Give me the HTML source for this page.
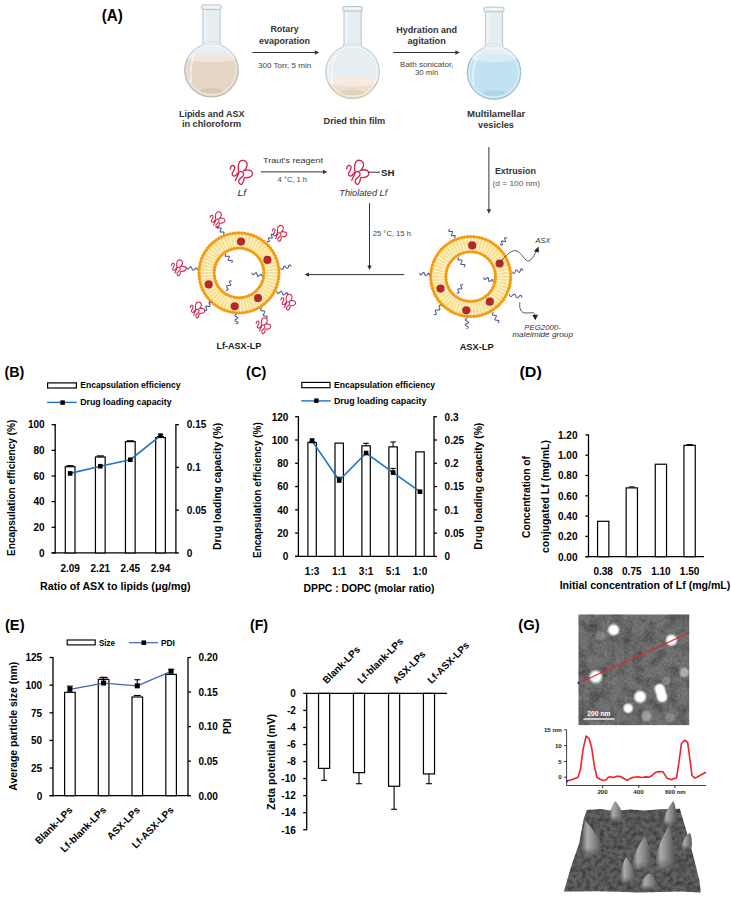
<!DOCTYPE html>
<html><head><meta charset="utf-8"><title>Figure</title>
<style>html,body{margin:0;padding:0;background:#fff;} svg{display:block;} text{font-family:"Liberation Sans", sans-serif;}</style>
</head><body>
<svg width="731" height="897" viewBox="0 0 731 897" style='font-family:"Liberation Sans", sans-serif'>
<rect width="731" height="897" fill="#fff"/>
<defs>
<filter id="afmnoise" x="0" y="0" width="100%" height="100%"><feTurbulence type="fractalNoise" baseFrequency="0.09" numOctaves="3" seed="3"/><feColorMatrix type="matrix" values="0 0 0 0 0  0 0 0 0 0  0 0 0 0 0  1.3 0 0 0 -0.5"/><feGaussianBlur stdDeviation="0.6"/><feComposite operator="in" in2="SourceGraphic"/></filter>
<filter id="afmfine" x="0" y="0" width="100%" height="100%"><feTurbulence type="fractalNoise" baseFrequency="0.4" numOctaves="2" seed="11"/><feColorMatrix type="matrix" values="0 0 0 0 1  0 0 0 0 1  0 0 0 0 1  1.6 0 0 0 -0.6"/><feGaussianBlur stdDeviation="0.4"/><feComposite operator="in" in2="SourceGraphic"/></filter>
<filter id="surfnoise" x="0" y="0" width="100%" height="100%"><feTurbulence type="fractalNoise" baseFrequency="0.22" numOctaves="3" seed="5"/><feColorMatrix type="matrix" values="0 0 0 0 0  0 0 0 0 0  0 0 0 0 0  1.8 0 0 0 -0.62"/><feComposite operator="in" in2="SourceGraphic"/></filter>
<radialGradient id="blob"><stop offset="0" stop-color="#fff"/><stop offset="0.55" stop-color="#fff"/><stop offset="0.8" stop-color="#fff" stop-opacity="0.45"/><stop offset="1" stop-color="#fff" stop-opacity="0"/></radialGradient>
<linearGradient id="spike" x1="0" x2="1" y1="0" y2="0"><stop offset="0" stop-color="#5e5e5e"/><stop offset="0.28" stop-color="#ababab"/><stop offset="0.6" stop-color="#888888"/><stop offset="1" stop-color="#525252"/></linearGradient>
<linearGradient id="vfade" x1="0" x2="0" y1="0" y2="1"><stop offset="0" stop-color="#fff"/><stop offset="0.75" stop-color="#fff"/><stop offset="1" stop-color="#222"/></linearGradient>
<mask id="spkmask" maskContentUnits="objectBoundingBox"><rect width="1" height="1" fill="url(#vfade)"/></mask>
</defs>
<text x="101.8" y="21.3" font-size="15.6" font-weight="bold" text-anchor="start" fill="#000" textLength="21.0" lengthAdjust="spacingAndGlyphs">(A)</text>
<path d="M202.90,7.90 L202.90,41.40 Q202.90,46.16 198.50,46.76 A26.8 26.8 0 1 0 224.50,46.76 Q220.10,46.16 220.10,41.40 L220.10,7.90 Z" fill="#e7eef2" stroke="#adbcc6" stroke-width="0.85"/>
<rect x="204.10" y="8.90" width="2.2" height="32.50" fill="#f3f7f9" opacity="0.8"/>
<ellipse cx="211.5" cy="42.90" rx="8.00" ry="1.5" fill="none" stroke="#d3dde3" stroke-width="0.6"/>
<clipPath id="fc1"><circle cx="211.5" cy="70.2" r="26.30"/></clipPath>
<g clip-path="url(#fc1)">
<rect x="184.70" y="58.40" width="53.60" height="39.60" fill="#e5d6c6"/>
<ellipse cx="211.5" cy="58.40" rx="24.06" ry="3.80" fill="#f1e6d9"/>
<ellipse cx="211.5" cy="90.80" rx="11.52" ry="2.8" fill="#d8c6b2" opacity="0.85"/>
<circle cx="211.5" cy="70.2" r="24.80" fill="none" stroke="#ffffff" stroke-opacity="0.35" stroke-width="1.6"/>
<rect x="184.70" y="58.40" width="53.60" height="39.60" fill="none"/>
</g>
<clipPath id="fl1"><rect x="182.70" y="58.40" width="57.60" height="41.60"/></clipPath>
<circle cx="211.5" cy="70.2" r="26.60" fill="none" stroke="#c9b9a8" stroke-width="1.1" clip-path="url(#fl1)"/>
<path d="M191.20,82.20 Q188.90,68.20 194.20,55.20" fill="none" stroke="#ffffff" stroke-opacity="0.55" stroke-width="2.0" stroke-linecap="round"/>
<rect x="201.30" y="4.90" width="20.4" height="4.6" rx="2.3" fill="#e2ebf0" stroke="#adbcc6" stroke-width="0.8"/>
<ellipse cx="211.5" cy="6.80" rx="8.2" ry="1.0" fill="#f5f8fa"/>
<path d="M344.00,9.50 L344.00,43.00 Q344.00,47.76 339.60,48.36 A26.8 26.8 0 1 0 365.60,48.36 Q361.20,47.76 361.20,43.00 L361.20,9.50 Z" fill="#e7eef2" stroke="#adbcc6" stroke-width="0.85"/>
<rect x="345.20" y="10.50" width="2.2" height="32.50" fill="#f3f7f9" opacity="0.8"/>
<ellipse cx="352.6" cy="44.50" rx="8.00" ry="1.5" fill="none" stroke="#d3dde3" stroke-width="0.6"/>
<clipPath id="fc2"><circle cx="352.6" cy="71.8" r="26.30"/></clipPath>
<g clip-path="url(#fc2)">
<rect x="325.80" y="81.75" width="53.60" height="17.85" fill="#ecdecb"/>
<ellipse cx="352.6" cy="81.75" rx="24.88" ry="4.75" fill="#f6ebde"/>
<ellipse cx="352.6" cy="92.40" rx="11.52" ry="2.8" fill="#e0cfba" opacity="0.85"/>
<circle cx="352.6" cy="71.8" r="24.80" fill="none" stroke="#ffffff" stroke-opacity="0.35" stroke-width="1.6"/>
<rect x="325.80" y="81.75" width="53.60" height="17.85" fill="none"/>
</g>
<clipPath id="fl2"><rect x="323.80" y="81.75" width="57.60" height="19.85"/></clipPath>
<circle cx="352.6" cy="71.8" r="26.60" fill="none" stroke="#d3c4b2" stroke-width="1.1" clip-path="url(#fl2)"/>
<path d="M332.30,83.80 Q330.00,69.80 335.30,56.80" fill="none" stroke="#ffffff" stroke-opacity="0.55" stroke-width="2.0" stroke-linecap="round"/>
<rect x="342.40" y="6.50" width="20.4" height="4.6" rx="2.3" fill="#e2ebf0" stroke="#adbcc6" stroke-width="0.8"/>
<ellipse cx="352.6" cy="8.40" rx="8.2" ry="1.0" fill="#f5f8fa"/>
<path d="M485.40,10.20 L485.40,43.70 Q485.40,48.46 481.00,49.06 A26.8 26.8 0 1 0 507.00,49.06 Q502.60,48.46 502.60,43.70 L502.60,10.20 Z" fill="#e7eef2" stroke="#adbcc6" stroke-width="0.85"/>
<rect x="486.60" y="11.20" width="2.2" height="32.50" fill="#f3f7f9" opacity="0.8"/>
<ellipse cx="494.0" cy="45.20" rx="8.00" ry="1.5" fill="none" stroke="#d3dde3" stroke-width="0.6"/>
<clipPath id="fc3"><circle cx="494.0" cy="72.5" r="26.30"/></clipPath>
<g clip-path="url(#fc3)">
<rect x="467.20" y="58.10" width="53.60" height="42.20" fill="#c0e2f1"/>
<ellipse cx="494.0" cy="58.10" rx="22.60" ry="4.20" fill="#d6edf6"/>
<ellipse cx="494.0" cy="93.10" rx="11.52" ry="2.8" fill="#aad4e8" opacity="0.85"/>
<circle cx="494.0" cy="72.5" r="24.80" fill="none" stroke="#ffffff" stroke-opacity="0.35" stroke-width="1.6"/>
<rect x="467.20" y="58.10" width="53.60" height="42.20" fill="none"/>
</g>
<clipPath id="fl3"><rect x="465.20" y="58.10" width="57.60" height="44.20"/></clipPath>
<circle cx="494.0" cy="72.5" r="26.60" fill="none" stroke="#9fc3d3" stroke-width="1.1" clip-path="url(#fl3)"/>
<path d="M473.70,84.50 Q471.40,70.50 476.70,57.50" fill="none" stroke="#ffffff" stroke-opacity="0.55" stroke-width="2.0" stroke-linecap="round"/>
<rect x="483.80" y="7.20" width="20.4" height="4.6" rx="2.3" fill="#e2ebf0" stroke="#adbcc6" stroke-width="0.8"/>
<ellipse cx="494.0" cy="9.10" rx="8.2" ry="1.0" fill="#f5f8fa"/>
<text x="178.9" y="116.6" font-size="8.8" font-weight="bold" text-anchor="start" fill="#333" textLength="65.6" lengthAdjust="spacingAndGlyphs">Lipids and ASX</text>
<text x="181.9" y="127.3" font-size="8.8" font-weight="bold" text-anchor="start" fill="#333" textLength="59.3" lengthAdjust="spacingAndGlyphs">in chloroform</text>
<text x="270.4" y="32.3" font-size="8.8" font-weight="bold" text-anchor="start" fill="#333" textLength="28.2" lengthAdjust="spacingAndGlyphs">Rotary</text>
<text x="259.0" y="43.5" font-size="8.8" font-weight="bold" text-anchor="start" fill="#333" textLength="51.1" lengthAdjust="spacingAndGlyphs">evaporation</text>
<line x1="252.40" y1="52.50" x2="316.80" y2="52.50" stroke="#333" stroke-width="1.0"/>
<path d="M319.2,52.5 L314.8,50.3 L314.8,54.7 Z" fill="#333"/>
<text x="257.9" y="68.2" font-size="8.0" font-weight="normal" text-anchor="start" fill="#444" textLength="53.3" lengthAdjust="spacingAndGlyphs">300 Torr, 5 min</text>
<text x="396.3" y="32.6" font-size="8.8" font-weight="bold" text-anchor="start" fill="#333" textLength="60.7" lengthAdjust="spacingAndGlyphs">Hydration and</text>
<text x="407.5" y="43.5" font-size="8.8" font-weight="bold" text-anchor="start" fill="#333" textLength="38.3" lengthAdjust="spacingAndGlyphs">agitation</text>
<line x1="393.10" y1="52.50" x2="457.40" y2="52.50" stroke="#333" stroke-width="1.0"/>
<path d="M459.8,52.5 L455.4,50.3 L455.4,54.7 Z" fill="#333"/>
<text x="400.0" y="66.5" font-size="8.0" font-weight="normal" text-anchor="start" fill="#444" textLength="53.5" lengthAdjust="spacingAndGlyphs">Bath sonicator,</text>
<text x="415.0" y="75.3" font-size="8.0" font-weight="normal" text-anchor="start" fill="#444" textLength="23.2" lengthAdjust="spacingAndGlyphs">30 min</text>
<text x="323.5" y="123.5" font-size="8.8" font-weight="bold" text-anchor="start" fill="#333" textLength="61.7" lengthAdjust="spacingAndGlyphs">Dried thin film</text>
<text x="467.0" y="116.6" font-size="8.8" font-weight="bold" text-anchor="start" fill="#333" textLength="58.2" lengthAdjust="spacingAndGlyphs">Multilamellar</text>
<text x="478.0" y="127.7" font-size="8.8" font-weight="bold" text-anchor="start" fill="#333" textLength="36.0" lengthAdjust="spacingAndGlyphs">vesicles</text>
<path d="M235.39,180.38 C235.64,179.80 236.37,178.05 236.92,176.88 C237.47,175.71 238.45,174.62 238.67,173.38 C238.89,172.14 238.27,170.89 238.24,169.44 C238.20,167.98 238.09,166.01 238.45,164.62 C238.82,163.23 239.59,161.81 240.42,161.12 C241.26,160.42 242.47,160.24 243.49,160.46 C244.51,160.68 245.97,161.52 246.55,162.43 C247.14,163.34 247.21,164.77 246.99,165.93 C246.77,167.10 245.82,168.63 245.24,169.44 C244.66,170.24 243.20,170.68 243.49,170.75 C243.78,170.82 245.75,169.87 246.99,169.87 C248.23,169.87 250.02,170.16 250.93,170.75 C251.84,171.33 252.46,172.43 252.46,173.38 C252.46,174.32 251.84,175.71 250.93,176.44 C250.02,177.17 248.09,177.54 246.99,177.75 C245.90,177.97 244.95,177.17 244.36,177.75 C243.78,178.34 243.93,180.16 243.49,181.26 C243.05,182.35 242.47,184.03 241.74,184.32 C241.01,184.61 239.55,183.74 239.11,183.01 C238.67,182.28 238.75,180.82 239.11,179.94 C239.48,179.07 240.57,178.56 241.30,177.75 C242.03,176.95 243.20,176.00 243.49,175.13 C243.78,174.25 243.56,173.08 243.05,172.50 C242.54,171.92 241.37,171.48 240.42,171.62 C239.48,171.77 238.16,172.72 237.36,173.38 C236.56,174.03 236.26,175.13 235.61,175.56 C234.95,176.00 234.00,176.29 233.42,176.00 C232.84,175.71 232.03,174.76 232.11,173.81 C232.18,172.86 233.42,171.41 233.86,170.31 C234.29,169.22 234.88,168.05 234.73,167.25 C234.59,166.44 233.60,165.60 232.98,165.49 C232.36,165.39 231.45,166.01 231.01,166.59 C230.57,167.17 230.46,168.60 230.35,169.00" fill="none" stroke="#d2204a" stroke-width="1.3" stroke-linecap="round" stroke-linejoin="round"/>
<text x="237.5" y="196.2" font-size="8.5" font-weight="normal" text-anchor="start" fill="#333" font-style="italic" textLength="8.8" lengthAdjust="spacingAndGlyphs">Lf</text>
<text x="263.0" y="163.2" font-size="7.8" font-weight="normal" text-anchor="start" fill="#333" textLength="60.0" lengthAdjust="spacingAndGlyphs">Traut's reagent</text>
<line x1="260.70" y1="171.90" x2="325.00" y2="171.90" stroke="#333" stroke-width="1.0"/>
<path d="M327.4,171.9 L323.0,169.7 L323.0,174.1 Z" fill="#333"/>
<text x="277.6" y="181.8" font-size="7.0" font-weight="normal" text-anchor="start" fill="#444" textLength="29.5" lengthAdjust="spacingAndGlyphs">4 °C, 1 h</text>
<path d="M351.79,180.28 C352.04,179.70 352.77,177.95 353.32,176.78 C353.87,175.61 354.85,174.52 355.07,173.28 C355.29,172.04 354.67,170.79 354.64,169.34 C354.60,167.88 354.49,165.91 354.85,164.52 C355.22,163.13 355.99,161.71 356.82,161.02 C357.66,160.32 358.87,160.14 359.89,160.36 C360.91,160.58 362.37,161.42 362.95,162.33 C363.54,163.24 363.61,164.67 363.39,165.83 C363.17,167.00 362.22,168.53 361.64,169.34 C361.06,170.14 359.60,170.58 359.89,170.65 C360.18,170.72 362.15,169.77 363.39,169.77 C364.63,169.77 366.42,170.06 367.33,170.65 C368.24,171.23 368.86,172.33 368.86,173.28 C368.86,174.22 368.24,175.61 367.33,176.34 C366.42,177.07 364.49,177.44 363.39,177.65 C362.30,177.87 361.35,177.07 360.76,177.65 C360.18,178.24 360.33,180.06 359.89,181.16 C359.45,182.25 358.87,183.93 358.14,184.22 C357.41,184.51 355.95,183.64 355.51,182.91 C355.07,182.18 355.15,180.72 355.51,179.84 C355.88,178.97 356.97,178.46 357.70,177.65 C358.43,176.85 359.60,175.90 359.89,175.03 C360.18,174.15 359.96,172.98 359.45,172.40 C358.94,171.82 357.77,171.38 356.82,171.52 C355.88,171.67 354.56,172.62 353.76,173.28 C352.96,173.93 352.66,175.03 352.01,175.46 C351.35,175.90 350.40,176.19 349.82,175.90 C349.24,175.61 348.43,174.66 348.51,173.71 C348.58,172.76 349.82,171.31 350.26,170.21 C350.69,169.12 351.28,167.95 351.13,167.15 C350.99,166.34 350.00,165.50 349.38,165.39 C348.76,165.29 347.85,165.91 347.41,166.49 C346.97,167.07 346.86,168.50 346.75,168.90" fill="none" stroke="#d2204a" stroke-width="1.3" stroke-linecap="round" stroke-linejoin="round"/>
<line x1="368.50" y1="172.20" x2="380.00" y2="172.20" stroke="#333" stroke-width="1.0"/>
<text x="381.0" y="176.1" font-size="8.8" font-weight="bold" text-anchor="start" fill="#222" textLength="13.4" lengthAdjust="spacingAndGlyphs">SH</text>
<text x="339.3" y="195.8" font-size="8.5" font-weight="normal" text-anchor="start" fill="#333" font-style="italic" textLength="47.9" lengthAdjust="spacingAndGlyphs">Thiolated Lf</text>
<line x1="369.50" y1="203.20" x2="369.50" y2="267.60" stroke="#333" stroke-width="1.0"/>
<path d="M369.5,270.0 L367.3,265.6 L371.7,265.6 Z" fill="#333"/>
<text x="372.8" y="235.5" font-size="8.0" font-weight="normal" text-anchor="start" fill="#444" textLength="38.1" lengthAdjust="spacingAndGlyphs">25 °C, 15 h</text>
<line x1="404.20" y1="274.60" x2="307.00" y2="274.60" stroke="#333" stroke-width="1.0"/>
<path d="M304.6,274.6 L309.0,272.4 L309.0,276.8 Z" fill="#333"/>
<line x1="488.90" y1="147.00" x2="488.90" y2="211.30" stroke="#333" stroke-width="1.0"/>
<path d="M488.9,213.7 L486.7,209.3 L491.1,209.3 Z" fill="#333"/>
<text x="494.9" y="173.6" font-size="8.8" font-weight="bold" text-anchor="start" fill="#333" textLength="41.0" lengthAdjust="spacingAndGlyphs">Extrusion</text>
<text x="492.6" y="185.9" font-size="8.0" font-weight="normal" text-anchor="start" fill="#555" textLength="47.4" lengthAdjust="spacingAndGlyphs">(d  = 100 nm)</text>
<circle cx="470.7" cy="276.6" r="32.40" fill="none" stroke="#f9e08f" stroke-width="15.20"/>
<line x1="496.47" y1="277.87" x2="509.65" y2="278.51" stroke="#fffbf3" stroke-width="0.9"/>
<line x1="496.22" y1="280.39" x2="509.28" y2="282.32" stroke="#fffbf3" stroke-width="0.9"/>
<line x1="495.73" y1="282.87" x2="508.53" y2="286.08" stroke="#fffbf3" stroke-width="0.9"/>
<line x1="494.99" y1="285.29" x2="507.42" y2="289.74" stroke="#fffbf3" stroke-width="0.9"/>
<line x1="494.02" y1="287.63" x2="505.96" y2="293.27" stroke="#fffbf3" stroke-width="0.9"/>
<line x1="492.83" y1="289.86" x2="504.15" y2="296.65" stroke="#fffbf3" stroke-width="0.9"/>
<line x1="491.42" y1="291.97" x2="502.03" y2="299.83" stroke="#fffbf3" stroke-width="0.9"/>
<line x1="489.82" y1="293.93" x2="499.60" y2="302.79" stroke="#fffbf3" stroke-width="0.9"/>
<line x1="488.03" y1="295.72" x2="496.89" y2="305.50" stroke="#fffbf3" stroke-width="0.9"/>
<line x1="486.07" y1="297.32" x2="493.93" y2="307.93" stroke="#fffbf3" stroke-width="0.9"/>
<line x1="483.96" y1="298.73" x2="490.75" y2="310.05" stroke="#fffbf3" stroke-width="0.9"/>
<line x1="481.73" y1="299.92" x2="487.37" y2="311.86" stroke="#fffbf3" stroke-width="0.9"/>
<line x1="479.39" y1="300.89" x2="483.84" y2="313.32" stroke="#fffbf3" stroke-width="0.9"/>
<line x1="476.97" y1="301.63" x2="480.18" y2="314.43" stroke="#fffbf3" stroke-width="0.9"/>
<line x1="474.49" y1="302.12" x2="476.42" y2="315.18" stroke="#fffbf3" stroke-width="0.9"/>
<line x1="471.97" y1="302.37" x2="472.61" y2="315.55" stroke="#fffbf3" stroke-width="0.9"/>
<line x1="469.43" y1="302.37" x2="468.79" y2="315.55" stroke="#fffbf3" stroke-width="0.9"/>
<line x1="466.91" y1="302.12" x2="464.98" y2="315.18" stroke="#fffbf3" stroke-width="0.9"/>
<line x1="464.43" y1="301.63" x2="461.22" y2="314.43" stroke="#fffbf3" stroke-width="0.9"/>
<line x1="462.01" y1="300.89" x2="457.56" y2="313.32" stroke="#fffbf3" stroke-width="0.9"/>
<line x1="459.67" y1="299.92" x2="454.03" y2="311.86" stroke="#fffbf3" stroke-width="0.9"/>
<line x1="457.44" y1="298.73" x2="450.65" y2="310.05" stroke="#fffbf3" stroke-width="0.9"/>
<line x1="455.33" y1="297.32" x2="447.47" y2="307.93" stroke="#fffbf3" stroke-width="0.9"/>
<line x1="453.37" y1="295.72" x2="444.51" y2="305.50" stroke="#fffbf3" stroke-width="0.9"/>
<line x1="451.58" y1="293.93" x2="441.80" y2="302.79" stroke="#fffbf3" stroke-width="0.9"/>
<line x1="449.98" y1="291.97" x2="439.37" y2="299.83" stroke="#fffbf3" stroke-width="0.9"/>
<line x1="448.57" y1="289.86" x2="437.25" y2="296.65" stroke="#fffbf3" stroke-width="0.9"/>
<line x1="447.38" y1="287.63" x2="435.44" y2="293.27" stroke="#fffbf3" stroke-width="0.9"/>
<line x1="446.41" y1="285.29" x2="433.98" y2="289.74" stroke="#fffbf3" stroke-width="0.9"/>
<line x1="445.67" y1="282.87" x2="432.87" y2="286.08" stroke="#fffbf3" stroke-width="0.9"/>
<line x1="445.18" y1="280.39" x2="432.12" y2="282.32" stroke="#fffbf3" stroke-width="0.9"/>
<line x1="444.93" y1="277.87" x2="431.75" y2="278.51" stroke="#fffbf3" stroke-width="0.9"/>
<line x1="444.93" y1="275.33" x2="431.75" y2="274.69" stroke="#fffbf3" stroke-width="0.9"/>
<line x1="445.18" y1="272.81" x2="432.12" y2="270.88" stroke="#fffbf3" stroke-width="0.9"/>
<line x1="445.67" y1="270.33" x2="432.87" y2="267.12" stroke="#fffbf3" stroke-width="0.9"/>
<line x1="446.41" y1="267.91" x2="433.98" y2="263.46" stroke="#fffbf3" stroke-width="0.9"/>
<line x1="447.38" y1="265.57" x2="435.44" y2="259.93" stroke="#fffbf3" stroke-width="0.9"/>
<line x1="448.57" y1="263.34" x2="437.25" y2="256.55" stroke="#fffbf3" stroke-width="0.9"/>
<line x1="449.98" y1="261.23" x2="439.37" y2="253.37" stroke="#fffbf3" stroke-width="0.9"/>
<line x1="451.58" y1="259.27" x2="441.80" y2="250.41" stroke="#fffbf3" stroke-width="0.9"/>
<line x1="453.37" y1="257.48" x2="444.51" y2="247.70" stroke="#fffbf3" stroke-width="0.9"/>
<line x1="455.33" y1="255.88" x2="447.47" y2="245.27" stroke="#fffbf3" stroke-width="0.9"/>
<line x1="457.44" y1="254.47" x2="450.65" y2="243.15" stroke="#fffbf3" stroke-width="0.9"/>
<line x1="459.67" y1="253.28" x2="454.03" y2="241.34" stroke="#fffbf3" stroke-width="0.9"/>
<line x1="462.01" y1="252.31" x2="457.56" y2="239.88" stroke="#fffbf3" stroke-width="0.9"/>
<line x1="464.43" y1="251.57" x2="461.22" y2="238.77" stroke="#fffbf3" stroke-width="0.9"/>
<line x1="466.91" y1="251.08" x2="464.98" y2="238.02" stroke="#fffbf3" stroke-width="0.9"/>
<line x1="469.43" y1="250.83" x2="468.79" y2="237.65" stroke="#fffbf3" stroke-width="0.9"/>
<line x1="471.97" y1="250.83" x2="472.61" y2="237.65" stroke="#fffbf3" stroke-width="0.9"/>
<line x1="474.49" y1="251.08" x2="476.42" y2="238.02" stroke="#fffbf3" stroke-width="0.9"/>
<line x1="476.97" y1="251.57" x2="480.18" y2="238.77" stroke="#fffbf3" stroke-width="0.9"/>
<line x1="479.39" y1="252.31" x2="483.84" y2="239.88" stroke="#fffbf3" stroke-width="0.9"/>
<line x1="481.73" y1="253.28" x2="487.37" y2="241.34" stroke="#fffbf3" stroke-width="0.9"/>
<line x1="483.96" y1="254.47" x2="490.75" y2="243.15" stroke="#fffbf3" stroke-width="0.9"/>
<line x1="486.07" y1="255.88" x2="493.93" y2="245.27" stroke="#fffbf3" stroke-width="0.9"/>
<line x1="488.03" y1="257.48" x2="496.89" y2="247.70" stroke="#fffbf3" stroke-width="0.9"/>
<line x1="489.82" y1="259.27" x2="499.60" y2="250.41" stroke="#fffbf3" stroke-width="0.9"/>
<line x1="491.42" y1="261.23" x2="502.03" y2="253.37" stroke="#fffbf3" stroke-width="0.9"/>
<line x1="492.83" y1="263.34" x2="504.15" y2="256.55" stroke="#fffbf3" stroke-width="0.9"/>
<line x1="494.02" y1="265.57" x2="505.96" y2="259.93" stroke="#fffbf3" stroke-width="0.9"/>
<line x1="494.99" y1="267.91" x2="507.42" y2="263.46" stroke="#fffbf3" stroke-width="0.9"/>
<line x1="495.73" y1="270.33" x2="508.53" y2="267.12" stroke="#fffbf3" stroke-width="0.9"/>
<line x1="496.22" y1="272.81" x2="509.28" y2="270.88" stroke="#fffbf3" stroke-width="0.9"/>
<line x1="496.47" y1="275.33" x2="509.65" y2="274.69" stroke="#fffbf3" stroke-width="0.9"/>
<circle cx="470.7" cy="276.6" r="40.0" fill="none" stroke="#f4a21a" stroke-width="1.5"/>
<circle cx="510.70" cy="276.60" r="1.65" fill="#f39a10"/>
<circle cx="510.59" cy="279.59" r="1.65" fill="#f39a10"/>
<circle cx="510.25" cy="282.56" r="1.65" fill="#f39a10"/>
<circle cx="509.70" cy="285.50" r="1.65" fill="#f39a10"/>
<circle cx="508.92" cy="288.39" r="1.65" fill="#f39a10"/>
<circle cx="507.93" cy="291.21" r="1.65" fill="#f39a10"/>
<circle cx="506.74" cy="293.96" r="1.65" fill="#f39a10"/>
<circle cx="505.34" cy="296.60" r="1.65" fill="#f39a10"/>
<circle cx="503.75" cy="299.13" r="1.65" fill="#f39a10"/>
<circle cx="501.97" cy="301.54" r="1.65" fill="#f39a10"/>
<circle cx="500.02" cy="303.81" r="1.65" fill="#f39a10"/>
<circle cx="497.91" cy="305.92" r="1.65" fill="#f39a10"/>
<circle cx="495.64" cy="307.87" r="1.65" fill="#f39a10"/>
<circle cx="493.23" cy="309.65" r="1.65" fill="#f39a10"/>
<circle cx="490.70" cy="311.24" r="1.65" fill="#f39a10"/>
<circle cx="488.06" cy="312.64" r="1.65" fill="#f39a10"/>
<circle cx="485.31" cy="313.83" r="1.65" fill="#f39a10"/>
<circle cx="482.49" cy="314.82" r="1.65" fill="#f39a10"/>
<circle cx="479.60" cy="315.60" r="1.65" fill="#f39a10"/>
<circle cx="476.66" cy="316.15" r="1.65" fill="#f39a10"/>
<circle cx="473.69" cy="316.49" r="1.65" fill="#f39a10"/>
<circle cx="470.70" cy="316.60" r="1.65" fill="#f39a10"/>
<circle cx="467.71" cy="316.49" r="1.65" fill="#f39a10"/>
<circle cx="464.74" cy="316.15" r="1.65" fill="#f39a10"/>
<circle cx="461.80" cy="315.60" r="1.65" fill="#f39a10"/>
<circle cx="458.91" cy="314.82" r="1.65" fill="#f39a10"/>
<circle cx="456.09" cy="313.83" r="1.65" fill="#f39a10"/>
<circle cx="453.34" cy="312.64" r="1.65" fill="#f39a10"/>
<circle cx="450.70" cy="311.24" r="1.65" fill="#f39a10"/>
<circle cx="448.17" cy="309.65" r="1.65" fill="#f39a10"/>
<circle cx="445.76" cy="307.87" r="1.65" fill="#f39a10"/>
<circle cx="443.49" cy="305.92" r="1.65" fill="#f39a10"/>
<circle cx="441.38" cy="303.81" r="1.65" fill="#f39a10"/>
<circle cx="439.43" cy="301.54" r="1.65" fill="#f39a10"/>
<circle cx="437.65" cy="299.13" r="1.65" fill="#f39a10"/>
<circle cx="436.06" cy="296.60" r="1.65" fill="#f39a10"/>
<circle cx="434.66" cy="293.96" r="1.65" fill="#f39a10"/>
<circle cx="433.47" cy="291.21" r="1.65" fill="#f39a10"/>
<circle cx="432.48" cy="288.39" r="1.65" fill="#f39a10"/>
<circle cx="431.70" cy="285.50" r="1.65" fill="#f39a10"/>
<circle cx="431.15" cy="282.56" r="1.65" fill="#f39a10"/>
<circle cx="430.81" cy="279.59" r="1.65" fill="#f39a10"/>
<circle cx="430.70" cy="276.60" r="1.65" fill="#f39a10"/>
<circle cx="430.81" cy="273.61" r="1.65" fill="#f39a10"/>
<circle cx="431.15" cy="270.64" r="1.65" fill="#f39a10"/>
<circle cx="431.70" cy="267.70" r="1.65" fill="#f39a10"/>
<circle cx="432.48" cy="264.81" r="1.65" fill="#f39a10"/>
<circle cx="433.47" cy="261.99" r="1.65" fill="#f39a10"/>
<circle cx="434.66" cy="259.24" r="1.65" fill="#f39a10"/>
<circle cx="436.06" cy="256.60" r="1.65" fill="#f39a10"/>
<circle cx="437.65" cy="254.07" r="1.65" fill="#f39a10"/>
<circle cx="439.43" cy="251.66" r="1.65" fill="#f39a10"/>
<circle cx="441.38" cy="249.39" r="1.65" fill="#f39a10"/>
<circle cx="443.49" cy="247.28" r="1.65" fill="#f39a10"/>
<circle cx="445.76" cy="245.33" r="1.65" fill="#f39a10"/>
<circle cx="448.17" cy="243.55" r="1.65" fill="#f39a10"/>
<circle cx="450.70" cy="241.96" r="1.65" fill="#f39a10"/>
<circle cx="453.34" cy="240.56" r="1.65" fill="#f39a10"/>
<circle cx="456.09" cy="239.37" r="1.65" fill="#f39a10"/>
<circle cx="458.91" cy="238.38" r="1.65" fill="#f39a10"/>
<circle cx="461.80" cy="237.60" r="1.65" fill="#f39a10"/>
<circle cx="464.74" cy="237.05" r="1.65" fill="#f39a10"/>
<circle cx="467.71" cy="236.71" r="1.65" fill="#f39a10"/>
<circle cx="470.70" cy="236.60" r="1.65" fill="#f39a10"/>
<circle cx="473.69" cy="236.71" r="1.65" fill="#f39a10"/>
<circle cx="476.66" cy="237.05" r="1.65" fill="#f39a10"/>
<circle cx="479.60" cy="237.60" r="1.65" fill="#f39a10"/>
<circle cx="482.49" cy="238.38" r="1.65" fill="#f39a10"/>
<circle cx="485.31" cy="239.37" r="1.65" fill="#f39a10"/>
<circle cx="488.06" cy="240.56" r="1.65" fill="#f39a10"/>
<circle cx="490.70" cy="241.96" r="1.65" fill="#f39a10"/>
<circle cx="493.23" cy="243.55" r="1.65" fill="#f39a10"/>
<circle cx="495.64" cy="245.33" r="1.65" fill="#f39a10"/>
<circle cx="497.91" cy="247.28" r="1.65" fill="#f39a10"/>
<circle cx="500.02" cy="249.39" r="1.65" fill="#f39a10"/>
<circle cx="501.97" cy="251.66" r="1.65" fill="#f39a10"/>
<circle cx="503.75" cy="254.07" r="1.65" fill="#f39a10"/>
<circle cx="505.34" cy="256.60" r="1.65" fill="#f39a10"/>
<circle cx="506.74" cy="259.24" r="1.65" fill="#f39a10"/>
<circle cx="507.93" cy="261.99" r="1.65" fill="#f39a10"/>
<circle cx="508.92" cy="264.81" r="1.65" fill="#f39a10"/>
<circle cx="509.70" cy="267.70" r="1.65" fill="#f39a10"/>
<circle cx="510.25" cy="270.64" r="1.65" fill="#f39a10"/>
<circle cx="510.59" cy="273.61" r="1.65" fill="#f39a10"/>
<circle cx="470.7" cy="276.6" r="24.8" fill="none" stroke="#f4a21a" stroke-width="1.5"/>
<circle cx="495.50" cy="276.60" r="1.65" fill="#f39a10"/>
<circle cx="495.33" cy="279.48" r="1.65" fill="#f39a10"/>
<circle cx="494.83" cy="282.32" r="1.65" fill="#f39a10"/>
<circle cx="494.00" cy="285.08" r="1.65" fill="#f39a10"/>
<circle cx="492.86" cy="287.73" r="1.65" fill="#f39a10"/>
<circle cx="491.42" cy="290.23" r="1.65" fill="#f39a10"/>
<circle cx="489.70" cy="292.54" r="1.65" fill="#f39a10"/>
<circle cx="487.72" cy="294.64" r="1.65" fill="#f39a10"/>
<circle cx="485.51" cy="296.49" r="1.65" fill="#f39a10"/>
<circle cx="483.10" cy="298.08" r="1.65" fill="#f39a10"/>
<circle cx="480.52" cy="299.37" r="1.65" fill="#f39a10"/>
<circle cx="477.81" cy="300.36" r="1.65" fill="#f39a10"/>
<circle cx="475.01" cy="301.02" r="1.65" fill="#f39a10"/>
<circle cx="472.14" cy="301.36" r="1.65" fill="#f39a10"/>
<circle cx="469.26" cy="301.36" r="1.65" fill="#f39a10"/>
<circle cx="466.39" cy="301.02" r="1.65" fill="#f39a10"/>
<circle cx="463.59" cy="300.36" r="1.65" fill="#f39a10"/>
<circle cx="460.88" cy="299.37" r="1.65" fill="#f39a10"/>
<circle cx="458.30" cy="298.08" r="1.65" fill="#f39a10"/>
<circle cx="455.89" cy="296.49" r="1.65" fill="#f39a10"/>
<circle cx="453.68" cy="294.64" r="1.65" fill="#f39a10"/>
<circle cx="451.70" cy="292.54" r="1.65" fill="#f39a10"/>
<circle cx="449.98" cy="290.23" r="1.65" fill="#f39a10"/>
<circle cx="448.54" cy="287.73" r="1.65" fill="#f39a10"/>
<circle cx="447.40" cy="285.08" r="1.65" fill="#f39a10"/>
<circle cx="446.57" cy="282.32" r="1.65" fill="#f39a10"/>
<circle cx="446.07" cy="279.48" r="1.65" fill="#f39a10"/>
<circle cx="445.90" cy="276.60" r="1.65" fill="#f39a10"/>
<circle cx="446.07" cy="273.72" r="1.65" fill="#f39a10"/>
<circle cx="446.57" cy="270.88" r="1.65" fill="#f39a10"/>
<circle cx="447.40" cy="268.12" r="1.65" fill="#f39a10"/>
<circle cx="448.54" cy="265.47" r="1.65" fill="#f39a10"/>
<circle cx="449.98" cy="262.97" r="1.65" fill="#f39a10"/>
<circle cx="451.70" cy="260.66" r="1.65" fill="#f39a10"/>
<circle cx="453.68" cy="258.56" r="1.65" fill="#f39a10"/>
<circle cx="455.89" cy="256.71" r="1.65" fill="#f39a10"/>
<circle cx="458.30" cy="255.12" r="1.65" fill="#f39a10"/>
<circle cx="460.88" cy="253.83" r="1.65" fill="#f39a10"/>
<circle cx="463.59" cy="252.84" r="1.65" fill="#f39a10"/>
<circle cx="466.39" cy="252.18" r="1.65" fill="#f39a10"/>
<circle cx="469.26" cy="251.84" r="1.65" fill="#f39a10"/>
<circle cx="472.14" cy="251.84" r="1.65" fill="#f39a10"/>
<circle cx="475.01" cy="252.18" r="1.65" fill="#f39a10"/>
<circle cx="477.81" cy="252.84" r="1.65" fill="#f39a10"/>
<circle cx="480.52" cy="253.83" r="1.65" fill="#f39a10"/>
<circle cx="483.10" cy="255.12" r="1.65" fill="#f39a10"/>
<circle cx="485.51" cy="256.71" r="1.65" fill="#f39a10"/>
<circle cx="487.72" cy="258.56" r="1.65" fill="#f39a10"/>
<circle cx="489.70" cy="260.66" r="1.65" fill="#f39a10"/>
<circle cx="491.42" cy="262.97" r="1.65" fill="#f39a10"/>
<circle cx="492.86" cy="265.47" r="1.65" fill="#f39a10"/>
<circle cx="494.00" cy="268.12" r="1.65" fill="#f39a10"/>
<circle cx="494.83" cy="270.88" r="1.65" fill="#f39a10"/>
<circle cx="495.33" cy="273.72" r="1.65" fill="#f39a10"/>
<circle cx="472.2" cy="245.4" r="4.1" fill="#b3292b"/>
<circle cx="499.6" cy="263.5" r="4.1" fill="#b3292b"/>
<circle cx="440.5" cy="288.6" r="4.1" fill="#b3292b"/>
<circle cx="489.8" cy="301.7" r="4.1" fill="#b3292b"/>
<circle cx="466.3" cy="310.3" r="4.1" fill="#b3292b"/>
<circle cx="239" cy="272.9" r="32.40" fill="none" stroke="#f9e08f" stroke-width="15.20"/>
<line x1="264.77" y1="274.17" x2="277.95" y2="274.81" stroke="#fffbf3" stroke-width="0.9"/>
<line x1="264.52" y1="276.69" x2="277.58" y2="278.62" stroke="#fffbf3" stroke-width="0.9"/>
<line x1="264.03" y1="279.17" x2="276.83" y2="282.38" stroke="#fffbf3" stroke-width="0.9"/>
<line x1="263.29" y1="281.59" x2="275.72" y2="286.04" stroke="#fffbf3" stroke-width="0.9"/>
<line x1="262.32" y1="283.93" x2="274.26" y2="289.57" stroke="#fffbf3" stroke-width="0.9"/>
<line x1="261.13" y1="286.16" x2="272.45" y2="292.95" stroke="#fffbf3" stroke-width="0.9"/>
<line x1="259.72" y1="288.27" x2="270.33" y2="296.13" stroke="#fffbf3" stroke-width="0.9"/>
<line x1="258.12" y1="290.23" x2="267.90" y2="299.09" stroke="#fffbf3" stroke-width="0.9"/>
<line x1="256.33" y1="292.02" x2="265.19" y2="301.80" stroke="#fffbf3" stroke-width="0.9"/>
<line x1="254.37" y1="293.62" x2="262.23" y2="304.23" stroke="#fffbf3" stroke-width="0.9"/>
<line x1="252.26" y1="295.03" x2="259.05" y2="306.35" stroke="#fffbf3" stroke-width="0.9"/>
<line x1="250.03" y1="296.22" x2="255.67" y2="308.16" stroke="#fffbf3" stroke-width="0.9"/>
<line x1="247.69" y1="297.19" x2="252.14" y2="309.62" stroke="#fffbf3" stroke-width="0.9"/>
<line x1="245.27" y1="297.93" x2="248.48" y2="310.73" stroke="#fffbf3" stroke-width="0.9"/>
<line x1="242.79" y1="298.42" x2="244.72" y2="311.48" stroke="#fffbf3" stroke-width="0.9"/>
<line x1="240.27" y1="298.67" x2="240.91" y2="311.85" stroke="#fffbf3" stroke-width="0.9"/>
<line x1="237.73" y1="298.67" x2="237.09" y2="311.85" stroke="#fffbf3" stroke-width="0.9"/>
<line x1="235.21" y1="298.42" x2="233.28" y2="311.48" stroke="#fffbf3" stroke-width="0.9"/>
<line x1="232.73" y1="297.93" x2="229.52" y2="310.73" stroke="#fffbf3" stroke-width="0.9"/>
<line x1="230.31" y1="297.19" x2="225.86" y2="309.62" stroke="#fffbf3" stroke-width="0.9"/>
<line x1="227.97" y1="296.22" x2="222.33" y2="308.16" stroke="#fffbf3" stroke-width="0.9"/>
<line x1="225.74" y1="295.03" x2="218.95" y2="306.35" stroke="#fffbf3" stroke-width="0.9"/>
<line x1="223.63" y1="293.62" x2="215.77" y2="304.23" stroke="#fffbf3" stroke-width="0.9"/>
<line x1="221.67" y1="292.02" x2="212.81" y2="301.80" stroke="#fffbf3" stroke-width="0.9"/>
<line x1="219.88" y1="290.23" x2="210.10" y2="299.09" stroke="#fffbf3" stroke-width="0.9"/>
<line x1="218.28" y1="288.27" x2="207.67" y2="296.13" stroke="#fffbf3" stroke-width="0.9"/>
<line x1="216.87" y1="286.16" x2="205.55" y2="292.95" stroke="#fffbf3" stroke-width="0.9"/>
<line x1="215.68" y1="283.93" x2="203.74" y2="289.57" stroke="#fffbf3" stroke-width="0.9"/>
<line x1="214.71" y1="281.59" x2="202.28" y2="286.04" stroke="#fffbf3" stroke-width="0.9"/>
<line x1="213.97" y1="279.17" x2="201.17" y2="282.38" stroke="#fffbf3" stroke-width="0.9"/>
<line x1="213.48" y1="276.69" x2="200.42" y2="278.62" stroke="#fffbf3" stroke-width="0.9"/>
<line x1="213.23" y1="274.17" x2="200.05" y2="274.81" stroke="#fffbf3" stroke-width="0.9"/>
<line x1="213.23" y1="271.63" x2="200.05" y2="270.99" stroke="#fffbf3" stroke-width="0.9"/>
<line x1="213.48" y1="269.11" x2="200.42" y2="267.18" stroke="#fffbf3" stroke-width="0.9"/>
<line x1="213.97" y1="266.63" x2="201.17" y2="263.42" stroke="#fffbf3" stroke-width="0.9"/>
<line x1="214.71" y1="264.21" x2="202.28" y2="259.76" stroke="#fffbf3" stroke-width="0.9"/>
<line x1="215.68" y1="261.87" x2="203.74" y2="256.23" stroke="#fffbf3" stroke-width="0.9"/>
<line x1="216.87" y1="259.64" x2="205.55" y2="252.85" stroke="#fffbf3" stroke-width="0.9"/>
<line x1="218.28" y1="257.53" x2="207.67" y2="249.67" stroke="#fffbf3" stroke-width="0.9"/>
<line x1="219.88" y1="255.57" x2="210.10" y2="246.71" stroke="#fffbf3" stroke-width="0.9"/>
<line x1="221.67" y1="253.78" x2="212.81" y2="244.00" stroke="#fffbf3" stroke-width="0.9"/>
<line x1="223.63" y1="252.18" x2="215.77" y2="241.57" stroke="#fffbf3" stroke-width="0.9"/>
<line x1="225.74" y1="250.77" x2="218.95" y2="239.45" stroke="#fffbf3" stroke-width="0.9"/>
<line x1="227.97" y1="249.58" x2="222.33" y2="237.64" stroke="#fffbf3" stroke-width="0.9"/>
<line x1="230.31" y1="248.61" x2="225.86" y2="236.18" stroke="#fffbf3" stroke-width="0.9"/>
<line x1="232.73" y1="247.87" x2="229.52" y2="235.07" stroke="#fffbf3" stroke-width="0.9"/>
<line x1="235.21" y1="247.38" x2="233.28" y2="234.32" stroke="#fffbf3" stroke-width="0.9"/>
<line x1="237.73" y1="247.13" x2="237.09" y2="233.95" stroke="#fffbf3" stroke-width="0.9"/>
<line x1="240.27" y1="247.13" x2="240.91" y2="233.95" stroke="#fffbf3" stroke-width="0.9"/>
<line x1="242.79" y1="247.38" x2="244.72" y2="234.32" stroke="#fffbf3" stroke-width="0.9"/>
<line x1="245.27" y1="247.87" x2="248.48" y2="235.07" stroke="#fffbf3" stroke-width="0.9"/>
<line x1="247.69" y1="248.61" x2="252.14" y2="236.18" stroke="#fffbf3" stroke-width="0.9"/>
<line x1="250.03" y1="249.58" x2="255.67" y2="237.64" stroke="#fffbf3" stroke-width="0.9"/>
<line x1="252.26" y1="250.77" x2="259.05" y2="239.45" stroke="#fffbf3" stroke-width="0.9"/>
<line x1="254.37" y1="252.18" x2="262.23" y2="241.57" stroke="#fffbf3" stroke-width="0.9"/>
<line x1="256.33" y1="253.78" x2="265.19" y2="244.00" stroke="#fffbf3" stroke-width="0.9"/>
<line x1="258.12" y1="255.57" x2="267.90" y2="246.71" stroke="#fffbf3" stroke-width="0.9"/>
<line x1="259.72" y1="257.53" x2="270.33" y2="249.67" stroke="#fffbf3" stroke-width="0.9"/>
<line x1="261.13" y1="259.64" x2="272.45" y2="252.85" stroke="#fffbf3" stroke-width="0.9"/>
<line x1="262.32" y1="261.87" x2="274.26" y2="256.23" stroke="#fffbf3" stroke-width="0.9"/>
<line x1="263.29" y1="264.21" x2="275.72" y2="259.76" stroke="#fffbf3" stroke-width="0.9"/>
<line x1="264.03" y1="266.63" x2="276.83" y2="263.42" stroke="#fffbf3" stroke-width="0.9"/>
<line x1="264.52" y1="269.11" x2="277.58" y2="267.18" stroke="#fffbf3" stroke-width="0.9"/>
<line x1="264.77" y1="271.63" x2="277.95" y2="270.99" stroke="#fffbf3" stroke-width="0.9"/>
<circle cx="239" cy="272.9" r="40.0" fill="none" stroke="#f4a21a" stroke-width="1.5"/>
<circle cx="279.00" cy="272.90" r="1.65" fill="#f39a10"/>
<circle cx="278.89" cy="275.89" r="1.65" fill="#f39a10"/>
<circle cx="278.55" cy="278.86" r="1.65" fill="#f39a10"/>
<circle cx="278.00" cy="281.80" r="1.65" fill="#f39a10"/>
<circle cx="277.22" cy="284.69" r="1.65" fill="#f39a10"/>
<circle cx="276.23" cy="287.51" r="1.65" fill="#f39a10"/>
<circle cx="275.04" cy="290.26" r="1.65" fill="#f39a10"/>
<circle cx="273.64" cy="292.90" r="1.65" fill="#f39a10"/>
<circle cx="272.05" cy="295.43" r="1.65" fill="#f39a10"/>
<circle cx="270.27" cy="297.84" r="1.65" fill="#f39a10"/>
<circle cx="268.32" cy="300.11" r="1.65" fill="#f39a10"/>
<circle cx="266.21" cy="302.22" r="1.65" fill="#f39a10"/>
<circle cx="263.94" cy="304.17" r="1.65" fill="#f39a10"/>
<circle cx="261.53" cy="305.95" r="1.65" fill="#f39a10"/>
<circle cx="259.00" cy="307.54" r="1.65" fill="#f39a10"/>
<circle cx="256.36" cy="308.94" r="1.65" fill="#f39a10"/>
<circle cx="253.61" cy="310.13" r="1.65" fill="#f39a10"/>
<circle cx="250.79" cy="311.12" r="1.65" fill="#f39a10"/>
<circle cx="247.90" cy="311.90" r="1.65" fill="#f39a10"/>
<circle cx="244.96" cy="312.45" r="1.65" fill="#f39a10"/>
<circle cx="241.99" cy="312.79" r="1.65" fill="#f39a10"/>
<circle cx="239.00" cy="312.90" r="1.65" fill="#f39a10"/>
<circle cx="236.01" cy="312.79" r="1.65" fill="#f39a10"/>
<circle cx="233.04" cy="312.45" r="1.65" fill="#f39a10"/>
<circle cx="230.10" cy="311.90" r="1.65" fill="#f39a10"/>
<circle cx="227.21" cy="311.12" r="1.65" fill="#f39a10"/>
<circle cx="224.39" cy="310.13" r="1.65" fill="#f39a10"/>
<circle cx="221.64" cy="308.94" r="1.65" fill="#f39a10"/>
<circle cx="219.00" cy="307.54" r="1.65" fill="#f39a10"/>
<circle cx="216.47" cy="305.95" r="1.65" fill="#f39a10"/>
<circle cx="214.06" cy="304.17" r="1.65" fill="#f39a10"/>
<circle cx="211.79" cy="302.22" r="1.65" fill="#f39a10"/>
<circle cx="209.68" cy="300.11" r="1.65" fill="#f39a10"/>
<circle cx="207.73" cy="297.84" r="1.65" fill="#f39a10"/>
<circle cx="205.95" cy="295.43" r="1.65" fill="#f39a10"/>
<circle cx="204.36" cy="292.90" r="1.65" fill="#f39a10"/>
<circle cx="202.96" cy="290.26" r="1.65" fill="#f39a10"/>
<circle cx="201.77" cy="287.51" r="1.65" fill="#f39a10"/>
<circle cx="200.78" cy="284.69" r="1.65" fill="#f39a10"/>
<circle cx="200.00" cy="281.80" r="1.65" fill="#f39a10"/>
<circle cx="199.45" cy="278.86" r="1.65" fill="#f39a10"/>
<circle cx="199.11" cy="275.89" r="1.65" fill="#f39a10"/>
<circle cx="199.00" cy="272.90" r="1.65" fill="#f39a10"/>
<circle cx="199.11" cy="269.91" r="1.65" fill="#f39a10"/>
<circle cx="199.45" cy="266.94" r="1.65" fill="#f39a10"/>
<circle cx="200.00" cy="264.00" r="1.65" fill="#f39a10"/>
<circle cx="200.78" cy="261.11" r="1.65" fill="#f39a10"/>
<circle cx="201.77" cy="258.29" r="1.65" fill="#f39a10"/>
<circle cx="202.96" cy="255.54" r="1.65" fill="#f39a10"/>
<circle cx="204.36" cy="252.90" r="1.65" fill="#f39a10"/>
<circle cx="205.95" cy="250.37" r="1.65" fill="#f39a10"/>
<circle cx="207.73" cy="247.96" r="1.65" fill="#f39a10"/>
<circle cx="209.68" cy="245.69" r="1.65" fill="#f39a10"/>
<circle cx="211.79" cy="243.58" r="1.65" fill="#f39a10"/>
<circle cx="214.06" cy="241.63" r="1.65" fill="#f39a10"/>
<circle cx="216.47" cy="239.85" r="1.65" fill="#f39a10"/>
<circle cx="219.00" cy="238.26" r="1.65" fill="#f39a10"/>
<circle cx="221.64" cy="236.86" r="1.65" fill="#f39a10"/>
<circle cx="224.39" cy="235.67" r="1.65" fill="#f39a10"/>
<circle cx="227.21" cy="234.68" r="1.65" fill="#f39a10"/>
<circle cx="230.10" cy="233.90" r="1.65" fill="#f39a10"/>
<circle cx="233.04" cy="233.35" r="1.65" fill="#f39a10"/>
<circle cx="236.01" cy="233.01" r="1.65" fill="#f39a10"/>
<circle cx="239.00" cy="232.90" r="1.65" fill="#f39a10"/>
<circle cx="241.99" cy="233.01" r="1.65" fill="#f39a10"/>
<circle cx="244.96" cy="233.35" r="1.65" fill="#f39a10"/>
<circle cx="247.90" cy="233.90" r="1.65" fill="#f39a10"/>
<circle cx="250.79" cy="234.68" r="1.65" fill="#f39a10"/>
<circle cx="253.61" cy="235.67" r="1.65" fill="#f39a10"/>
<circle cx="256.36" cy="236.86" r="1.65" fill="#f39a10"/>
<circle cx="259.00" cy="238.26" r="1.65" fill="#f39a10"/>
<circle cx="261.53" cy="239.85" r="1.65" fill="#f39a10"/>
<circle cx="263.94" cy="241.63" r="1.65" fill="#f39a10"/>
<circle cx="266.21" cy="243.58" r="1.65" fill="#f39a10"/>
<circle cx="268.32" cy="245.69" r="1.65" fill="#f39a10"/>
<circle cx="270.27" cy="247.96" r="1.65" fill="#f39a10"/>
<circle cx="272.05" cy="250.37" r="1.65" fill="#f39a10"/>
<circle cx="273.64" cy="252.90" r="1.65" fill="#f39a10"/>
<circle cx="275.04" cy="255.54" r="1.65" fill="#f39a10"/>
<circle cx="276.23" cy="258.29" r="1.65" fill="#f39a10"/>
<circle cx="277.22" cy="261.11" r="1.65" fill="#f39a10"/>
<circle cx="278.00" cy="264.00" r="1.65" fill="#f39a10"/>
<circle cx="278.55" cy="266.94" r="1.65" fill="#f39a10"/>
<circle cx="278.89" cy="269.91" r="1.65" fill="#f39a10"/>
<circle cx="239" cy="272.9" r="24.8" fill="none" stroke="#f4a21a" stroke-width="1.5"/>
<circle cx="263.80" cy="272.90" r="1.65" fill="#f39a10"/>
<circle cx="263.63" cy="275.78" r="1.65" fill="#f39a10"/>
<circle cx="263.13" cy="278.62" r="1.65" fill="#f39a10"/>
<circle cx="262.30" cy="281.38" r="1.65" fill="#f39a10"/>
<circle cx="261.16" cy="284.03" r="1.65" fill="#f39a10"/>
<circle cx="259.72" cy="286.53" r="1.65" fill="#f39a10"/>
<circle cx="258.00" cy="288.84" r="1.65" fill="#f39a10"/>
<circle cx="256.02" cy="290.94" r="1.65" fill="#f39a10"/>
<circle cx="253.81" cy="292.79" r="1.65" fill="#f39a10"/>
<circle cx="251.40" cy="294.38" r="1.65" fill="#f39a10"/>
<circle cx="248.82" cy="295.67" r="1.65" fill="#f39a10"/>
<circle cx="246.11" cy="296.66" r="1.65" fill="#f39a10"/>
<circle cx="243.31" cy="297.32" r="1.65" fill="#f39a10"/>
<circle cx="240.44" cy="297.66" r="1.65" fill="#f39a10"/>
<circle cx="237.56" cy="297.66" r="1.65" fill="#f39a10"/>
<circle cx="234.69" cy="297.32" r="1.65" fill="#f39a10"/>
<circle cx="231.89" cy="296.66" r="1.65" fill="#f39a10"/>
<circle cx="229.18" cy="295.67" r="1.65" fill="#f39a10"/>
<circle cx="226.60" cy="294.38" r="1.65" fill="#f39a10"/>
<circle cx="224.19" cy="292.79" r="1.65" fill="#f39a10"/>
<circle cx="221.98" cy="290.94" r="1.65" fill="#f39a10"/>
<circle cx="220.00" cy="288.84" r="1.65" fill="#f39a10"/>
<circle cx="218.28" cy="286.53" r="1.65" fill="#f39a10"/>
<circle cx="216.84" cy="284.03" r="1.65" fill="#f39a10"/>
<circle cx="215.70" cy="281.38" r="1.65" fill="#f39a10"/>
<circle cx="214.87" cy="278.62" r="1.65" fill="#f39a10"/>
<circle cx="214.37" cy="275.78" r="1.65" fill="#f39a10"/>
<circle cx="214.20" cy="272.90" r="1.65" fill="#f39a10"/>
<circle cx="214.37" cy="270.02" r="1.65" fill="#f39a10"/>
<circle cx="214.87" cy="267.18" r="1.65" fill="#f39a10"/>
<circle cx="215.70" cy="264.42" r="1.65" fill="#f39a10"/>
<circle cx="216.84" cy="261.77" r="1.65" fill="#f39a10"/>
<circle cx="218.28" cy="259.27" r="1.65" fill="#f39a10"/>
<circle cx="220.00" cy="256.96" r="1.65" fill="#f39a10"/>
<circle cx="221.98" cy="254.86" r="1.65" fill="#f39a10"/>
<circle cx="224.19" cy="253.01" r="1.65" fill="#f39a10"/>
<circle cx="226.60" cy="251.42" r="1.65" fill="#f39a10"/>
<circle cx="229.18" cy="250.13" r="1.65" fill="#f39a10"/>
<circle cx="231.89" cy="249.14" r="1.65" fill="#f39a10"/>
<circle cx="234.69" cy="248.48" r="1.65" fill="#f39a10"/>
<circle cx="237.56" cy="248.14" r="1.65" fill="#f39a10"/>
<circle cx="240.44" cy="248.14" r="1.65" fill="#f39a10"/>
<circle cx="243.31" cy="248.48" r="1.65" fill="#f39a10"/>
<circle cx="246.11" cy="249.14" r="1.65" fill="#f39a10"/>
<circle cx="248.82" cy="250.13" r="1.65" fill="#f39a10"/>
<circle cx="251.40" cy="251.42" r="1.65" fill="#f39a10"/>
<circle cx="253.81" cy="253.01" r="1.65" fill="#f39a10"/>
<circle cx="256.02" cy="254.86" r="1.65" fill="#f39a10"/>
<circle cx="258.00" cy="256.96" r="1.65" fill="#f39a10"/>
<circle cx="259.72" cy="259.27" r="1.65" fill="#f39a10"/>
<circle cx="261.16" cy="261.77" r="1.65" fill="#f39a10"/>
<circle cx="262.30" cy="264.42" r="1.65" fill="#f39a10"/>
<circle cx="263.13" cy="267.18" r="1.65" fill="#f39a10"/>
<circle cx="263.63" cy="270.02" r="1.65" fill="#f39a10"/>
<circle cx="241.0" cy="241.6" r="4.1" fill="#b3292b"/>
<circle cx="267.4" cy="259.9" r="4.1" fill="#b3292b"/>
<circle cx="208.7" cy="284.4" r="4.1" fill="#b3292b"/>
<circle cx="258.0" cy="298.1" r="4.1" fill="#b3292b"/>
<circle cx="234.7" cy="306.3" r="4.1" fill="#b3292b"/>
<path d="M454.50,237.70 L454.77,237.25 L455.01,236.83 L455.16,236.45 L455.22,236.13 L455.16,235.89 L454.97,235.72 L454.66,235.62 L454.26,235.59 L453.77,235.59 L453.25,235.62 L452.73,235.66 L452.24,235.66 L451.84,235.63 L451.53,235.53 L451.34,235.36 L451.28,235.12 L451.34,234.80 L451.49,234.42 L451.73,234.00 L452.00,233.55 L452.27,233.10 L452.51,232.68 L452.66,232.30 L452.72,231.98 L452.66,231.74 L452.47,231.57 L452.16,231.47 L451.76,231.44 L451.27,231.44 L450.75,231.47 L450.23,231.51 L449.74,231.51 L449.34,231.48 L449.03,231.38 L448.84,231.21 L448.78,230.97 L448.84,230.65 L448.99,230.27 L449.23,229.85 L449.50,229.40" fill="none" stroke="#48548f" stroke-width="1.05" stroke-linejoin="round" stroke-linecap="round"/>
<path d="M500.40,244.60 L500.89,244.75 L501.35,244.87 L501.75,244.94 L502.06,244.92 L502.27,244.80 L502.37,244.59 L502.37,244.28 L502.28,243.88 L502.13,243.43 L501.95,242.95 L501.77,242.47 L501.62,242.02 L501.53,241.62 L501.53,241.31 L501.63,241.10 L501.84,240.98 L502.15,240.96 L502.55,241.03 L503.01,241.15 L503.50,241.30 L503.99,241.45 L504.45,241.57 L504.85,241.64 L505.16,241.62 L505.37,241.50 L505.47,241.29 L505.47,240.98 L505.38,240.58 L505.23,240.13 L505.05,239.65 L504.87,239.17 L504.72,238.72 L504.63,238.32 L504.63,238.01 L504.73,237.80 L504.94,237.68 L505.25,237.66 L505.65,237.73 L506.11,237.85 L506.60,238.00" fill="none" stroke="#48548f" stroke-width="1.05" stroke-linejoin="round" stroke-linecap="round"/>
<path d="M512.70,272.20 L513.05,272.60 L513.38,272.96 L513.70,273.23 L514.00,273.39 L514.27,273.41 L514.51,273.28 L514.71,273.02 L514.90,272.64 L515.07,272.18 L515.23,271.68 L515.38,271.17 L515.55,270.71 L515.74,270.33 L515.94,270.07 L516.18,269.94 L516.45,269.96 L516.75,270.12 L517.07,270.39 L517.40,270.75 L517.75,271.15 L518.10,271.55 L518.43,271.91 L518.75,272.18 L519.05,272.34 L519.32,272.36 L519.56,272.23 L519.76,271.97 L519.95,271.59 L520.12,271.13 L520.27,270.62 L520.43,270.12 L520.60,269.66 L520.79,269.28 L520.99,269.02 L521.23,268.89 L521.50,268.91 L521.80,269.07 L522.12,269.34 L522.45,269.70 L522.80,270.10" fill="none" stroke="#48548f" stroke-width="1.05" stroke-linejoin="round" stroke-linecap="round"/>
<path d="M509.50,294.70 L509.72,295.22 L509.95,295.69 L510.20,296.08 L510.47,296.35 L510.77,296.48 L511.10,296.47 L511.45,296.33 L511.83,296.06 L512.22,295.72 L512.62,295.32 L513.03,294.93 L513.42,294.59 L513.80,294.32 L514.15,294.18 L514.48,294.17 L514.78,294.30 L515.05,294.57 L515.30,294.96 L515.53,295.43 L515.75,295.95 L515.97,296.47 L516.20,296.94 L516.45,297.33 L516.72,297.60 L517.02,297.73 L517.35,297.72 L517.70,297.58 L518.08,297.31 L518.47,296.97 L518.88,296.57 L519.28,296.18 L519.67,295.84 L520.05,295.57 L520.40,295.43 L520.73,295.42 L521.03,295.55 L521.30,295.82 L521.55,296.21 L521.78,296.68 L522.00,297.20" fill="none" stroke="#48548f" stroke-width="1.05" stroke-linejoin="round" stroke-linecap="round"/>
<path d="M493.00,312.70 L492.72,313.16 L492.48,313.61 L492.31,314.01 L492.25,314.36 L492.32,314.65 L492.51,314.87 L492.83,315.02 L493.26,315.12 L493.76,315.18 L494.30,315.23 L494.84,315.27 L495.34,315.33 L495.77,315.43 L496.09,315.58 L496.28,315.80 L496.35,316.09 L496.29,316.44 L496.12,316.84 L495.88,317.29 L495.60,317.75 L495.32,318.21 L495.08,318.66 L494.91,319.06 L494.85,319.41 L494.92,319.70 L495.11,319.92 L495.43,320.07 L495.86,320.17 L496.36,320.23 L496.90,320.27 L497.44,320.32 L497.94,320.38 L498.37,320.48 L498.69,320.63 L498.88,320.85 L498.95,321.14 L498.89,321.49 L498.72,321.89 L498.48,322.34 L498.20,322.80" fill="none" stroke="#48548f" stroke-width="1.05" stroke-linejoin="round" stroke-linecap="round"/>
<path d="M466.80,318.50 L466.34,318.75 L465.92,319.00 L465.59,319.26 L465.37,319.51 L465.30,319.76 L465.37,320.01 L465.59,320.27 L465.92,320.52 L466.34,320.77 L466.80,321.02 L467.26,321.28 L467.68,321.53 L468.01,321.78 L468.23,322.04 L468.30,322.29 L468.23,322.54 L468.01,322.79 L467.68,323.05 L467.26,323.30 L466.80,323.55 L466.34,323.80 L465.92,324.06 L465.59,324.31 L465.37,324.56 L465.30,324.81 L465.37,325.06 L465.59,325.32 L465.92,325.57 L466.34,325.82 L466.80,326.08 L467.26,326.33 L467.68,326.58 L468.01,326.83 L468.23,327.09 L468.30,327.34 L468.23,327.59 L468.01,327.84 L467.68,328.10 L467.26,328.35 L466.80,328.60" fill="none" stroke="#48548f" stroke-width="1.05" stroke-linejoin="round" stroke-linecap="round"/>
<path d="M441.30,305.40 L440.75,305.34 L440.24,305.31 L439.80,305.34 L439.45,305.43 L439.21,305.62 L439.09,305.89 L439.07,306.26 L439.15,306.69 L439.29,307.18 L439.48,307.70 L439.66,308.22 L439.80,308.71 L439.88,309.14 L439.86,309.51 L439.74,309.78 L439.50,309.97 L439.15,310.06 L438.71,310.09 L438.20,310.06 L437.65,310.00 L437.10,309.94 L436.59,309.91 L436.15,309.94 L435.80,310.03 L435.56,310.22 L435.44,310.49 L435.42,310.86 L435.50,311.29 L435.64,311.78 L435.82,312.30 L436.01,312.82 L436.15,313.31 L436.23,313.74 L436.21,314.11 L436.09,314.38 L435.85,314.57 L435.50,314.66 L435.06,314.69 L434.55,314.66 L434.00,314.60" fill="none" stroke="#48548f" stroke-width="1.05" stroke-linejoin="round" stroke-linecap="round"/>
<path d="M429.50,275.00 L429.34,274.50 L429.17,274.05 L428.98,273.68 L428.78,273.42 L428.55,273.31 L428.29,273.34 L428.01,273.51 L427.71,273.79 L427.40,274.16 L427.07,274.57 L426.75,274.99 L426.44,275.36 L426.14,275.64 L425.86,275.81 L425.60,275.84 L425.37,275.73 L425.17,275.47 L424.98,275.10 L424.81,274.65 L424.65,274.15 L424.49,273.65 L424.32,273.20 L424.13,272.83 L423.93,272.57 L423.70,272.46 L423.44,272.49 L423.16,272.66 L422.86,272.94 L422.55,273.31 L422.23,273.73 L421.90,274.14 L421.59,274.51 L421.29,274.79 L421.01,274.96 L420.75,274.99 L420.52,274.88 L420.32,274.62 L420.13,274.25 L419.96,273.80 L419.80,273.30" fill="none" stroke="#48548f" stroke-width="1.05" stroke-linejoin="round" stroke-linecap="round"/>
<path d="M458.60,257.80 L458.35,258.27 L458.14,258.72 L458.00,259.12 L457.96,259.46 L458.05,259.73 L458.25,259.91 L458.57,260.02 L459.00,260.07 L459.49,260.07 L460.03,260.05 L460.56,260.03 L461.05,260.03 L461.48,260.08 L461.80,260.19 L462.00,260.37 L462.09,260.64 L462.05,260.98 L461.91,261.38 L461.70,261.83 L461.45,262.30 L461.20,262.77 L460.99,263.22 L460.85,263.62 L460.81,263.96 L460.90,264.23 L461.10,264.41 L461.42,264.52 L461.85,264.57 L462.34,264.57 L462.88,264.55 L463.41,264.53 L463.90,264.53 L464.33,264.58 L464.65,264.69 L464.85,264.87 L464.94,265.14 L464.90,265.48 L464.76,265.88 L464.55,266.33 L464.30,266.80" fill="none" stroke="#48548f" stroke-width="1.05" stroke-linejoin="round" stroke-linecap="round"/>
<path d="M493.00,281.60 L492.97,281.08 L492.92,280.59 L492.83,280.19 L492.69,279.89 L492.50,279.72 L492.24,279.69 L491.93,279.78 L491.57,279.98 L491.17,280.26 L490.75,280.58 L490.33,280.89 L489.93,281.17 L489.57,281.37 L489.26,281.46 L489.00,281.43 L488.81,281.26 L488.67,280.96 L488.58,280.56 L488.53,280.07 L488.50,279.55 L488.47,279.03 L488.42,278.54 L488.33,278.14 L488.19,277.84 L488.00,277.67 L487.74,277.64 L487.43,277.73 L487.07,277.93 L486.67,278.21 L486.25,278.52 L485.83,278.84 L485.43,279.12 L485.07,279.32 L484.76,279.41 L484.50,279.38 L484.31,279.21 L484.17,278.91 L484.08,278.51 L484.03,278.02 L484.00,277.50" fill="none" stroke="#48548f" stroke-width="1.05" stroke-linejoin="round" stroke-linecap="round"/>
<path d="M456.90,293.00 L457.42,293.06 L457.91,293.10 L458.33,293.09 L458.64,293.00 L458.85,292.84 L458.93,292.59 L458.91,292.27 L458.78,291.87 L458.58,291.42 L458.35,290.95 L458.12,290.48 L457.92,290.03 L457.79,289.63 L457.77,289.31 L457.85,289.06 L458.06,288.90 L458.37,288.81 L458.79,288.80 L459.28,288.84 L459.80,288.90 L460.32,288.96 L460.81,289.00 L461.23,288.99 L461.54,288.90 L461.75,288.74 L461.83,288.49 L461.81,288.17 L461.68,287.77 L461.48,287.32 L461.25,286.85 L461.02,286.38 L460.82,285.93 L460.69,285.53 L460.67,285.21 L460.75,284.96 L460.96,284.80 L461.27,284.71 L461.69,284.70 L462.18,284.74 L462.70,284.80" fill="none" stroke="#48548f" stroke-width="1.05" stroke-linejoin="round" stroke-linecap="round"/>
<path d="M280.80,268.20 L281.14,268.60 L281.48,268.97 L281.80,269.24 L282.09,269.40 L282.36,269.42 L282.60,269.30 L282.82,269.04 L283.01,268.67 L283.18,268.20 L283.35,267.70 L283.52,267.20 L283.69,266.73 L283.88,266.36 L284.10,266.10 L284.34,265.98 L284.61,266.00 L284.90,266.16 L285.22,266.43 L285.56,266.80 L285.90,267.20 L286.24,267.60 L286.58,267.97 L286.90,268.24 L287.19,268.40 L287.46,268.42 L287.70,268.30 L287.92,268.04 L288.11,267.67 L288.28,267.20 L288.45,266.70 L288.62,266.20 L288.79,265.73 L288.98,265.36 L289.20,265.10 L289.44,264.98 L289.71,265.00 L290.00,265.16 L290.32,265.43 L290.66,265.80 L291.00,266.20" fill="none" stroke="#48548f" stroke-width="1.05" stroke-linejoin="round" stroke-linecap="round"/>
<path d="M236.40,314.30 L235.94,314.54 L235.52,314.78 L235.19,315.01 L234.97,315.25 L234.90,315.49 L234.97,315.73 L235.19,315.96 L235.52,316.20 L235.94,316.44 L236.40,316.68 L236.86,316.91 L237.28,317.15 L237.61,317.39 L237.83,317.62 L237.90,317.86 L237.83,318.10 L237.61,318.34 L237.28,318.57 L236.86,318.81 L236.40,319.05 L235.94,319.29 L235.52,319.53 L235.19,319.76 L234.97,320.00 L234.90,320.24 L234.97,320.48 L235.19,320.71 L235.52,320.95 L235.94,321.19 L236.40,321.43 L236.86,321.66 L237.28,321.90 L237.61,322.14 L237.83,322.38 L237.90,322.61 L237.83,322.85 L237.61,323.09 L237.28,323.32 L236.86,323.56 L236.40,323.80" fill="none" stroke="#48548f" stroke-width="1.05" stroke-linejoin="round" stroke-linecap="round"/>
<path d="M262.10,276.20 L261.99,275.68 L261.87,275.20 L261.72,274.80 L261.53,274.51 L261.30,274.36 L261.03,274.35 L260.71,274.47 L260.35,274.70 L259.97,275.02 L259.58,275.38 L259.18,275.73 L258.80,276.05 L258.44,276.28 L258.12,276.40 L257.85,276.39 L257.62,276.24 L257.43,275.95 L257.28,275.55 L257.16,275.07 L257.05,274.55 L256.94,274.03 L256.82,273.55 L256.67,273.15 L256.48,272.86 L256.25,272.71 L255.98,272.70 L255.66,272.82 L255.30,273.05 L254.92,273.37 L254.53,273.72 L254.13,274.08 L253.75,274.40 L253.39,274.63 L253.07,274.75 L252.80,274.74 L252.57,274.59 L252.38,274.30 L252.23,273.90 L252.11,273.42 L252.00,272.90" fill="none" stroke="#48548f" stroke-width="1.05" stroke-linejoin="round" stroke-linecap="round"/>
<path d="M226.00,290.20 L226.54,290.20 L227.03,290.18 L227.45,290.11 L227.77,289.99 L227.97,289.79 L228.04,289.52 L227.99,289.18 L227.84,288.78 L227.62,288.34 L227.35,287.88 L227.08,287.41 L226.86,286.97 L226.71,286.57 L226.66,286.23 L226.73,285.96 L226.93,285.76 L227.25,285.64 L227.67,285.57 L228.16,285.55 L228.70,285.55 L229.24,285.55 L229.73,285.53 L230.15,285.46 L230.47,285.34 L230.67,285.14 L230.74,284.87 L230.69,284.53 L230.54,284.13 L230.32,283.69 L230.05,283.22 L229.78,282.76 L229.56,282.32 L229.41,281.92 L229.36,281.58 L229.43,281.31 L229.63,281.11 L229.95,280.99 L230.37,280.92 L230.86,280.90 L231.40,280.90" fill="none" stroke="#48548f" stroke-width="1.05" stroke-linejoin="round" stroke-linecap="round"/>
<path d="M225.70,254.20 L225.48,254.68 L225.29,255.14 L225.18,255.54 L225.16,255.87 L225.25,256.13 L225.47,256.29 L225.79,256.37 L226.21,256.38 L226.70,256.34 L227.22,256.27 L227.75,256.21 L228.24,256.17 L228.66,256.18 L228.98,256.26 L229.20,256.42 L229.29,256.68 L229.27,257.01 L229.16,257.41 L228.97,257.87 L228.75,258.35 L228.53,258.83 L228.34,259.29 L228.23,259.69 L228.21,260.02 L228.30,260.28 L228.52,260.44 L228.84,260.52 L229.26,260.53 L229.75,260.49 L230.28,260.43 L230.80,260.36 L231.29,260.32 L231.71,260.33 L232.03,260.41 L232.25,260.57 L232.34,260.83 L232.32,261.16 L232.21,261.56 L232.02,262.02 L231.80,262.50" fill="none" stroke="#48548f" stroke-width="1.05" stroke-linejoin="round" stroke-linecap="round"/>
<path d="M223.50,234.00 L223.74,233.53 L223.93,233.09 L224.06,232.70 L224.09,232.37 L224.01,232.13 L223.81,231.97 L223.49,231.90 L223.08,231.89 L222.60,231.93 L222.07,232.00 L221.55,232.07 L221.07,232.11 L220.66,232.10 L220.34,232.03 L220.14,231.87 L220.06,231.63 L220.09,231.30 L220.22,230.91 L220.41,230.47 L220.65,230.00 L220.89,229.53 L221.08,229.09 L221.21,228.70 L221.24,228.37 L221.16,228.13 L220.96,227.97 L220.64,227.90 L220.23,227.89 L219.75,227.93 L219.22,228.00 L218.70,228.07 L218.22,228.11 L217.81,228.10 L217.49,228.03 L217.29,227.87 L217.21,227.63 L217.24,227.30 L217.37,226.91 L217.56,226.47 L217.80,226.00" fill="none" stroke="#48548f" stroke-width="1.05" stroke-linejoin="round" stroke-linecap="round"/>
<path d="M213.60,225.00 C213.77,224.62 214.25,223.46 214.61,222.69 C214.97,221.92 215.62,221.20 215.77,220.38 C215.91,219.56 215.50,218.74 215.48,217.78 C215.45,216.81 215.38,215.51 215.62,214.60 C215.86,213.68 216.37,212.74 216.92,212.29 C217.48,211.83 218.27,211.71 218.94,211.85 C219.62,212.00 220.58,212.55 220.97,213.15 C221.35,213.76 221.40,214.69 221.26,215.47 C221.11,216.24 220.49,217.25 220.10,217.78 C219.72,218.31 218.75,218.60 218.94,218.64 C219.14,218.69 220.44,218.07 221.26,218.07 C222.08,218.07 223.26,218.26 223.86,218.64 C224.46,219.03 224.87,219.75 224.87,220.38 C224.87,221.00 224.46,221.92 223.86,222.40 C223.26,222.88 221.98,223.12 221.26,223.27 C220.53,223.41 219.91,222.88 219.52,223.27 C219.14,223.65 219.23,224.86 218.94,225.58 C218.66,226.30 218.27,227.41 217.79,227.60 C217.31,227.79 216.34,227.22 216.06,226.74 C215.77,226.25 215.81,225.29 216.06,224.71 C216.30,224.13 217.02,223.80 217.50,223.27 C217.98,222.74 218.75,222.11 218.94,221.53 C219.14,220.96 218.99,220.19 218.66,219.80 C218.32,219.41 217.55,219.13 216.92,219.22 C216.30,219.32 215.43,219.94 214.90,220.38 C214.37,220.81 214.18,221.53 213.74,221.82 C213.31,222.11 212.68,222.30 212.30,222.11 C211.91,221.92 211.38,221.29 211.43,220.67 C211.48,220.04 212.30,219.08 212.59,218.36 C212.88,217.63 213.26,216.86 213.17,216.33 C213.07,215.80 212.42,215.25 212.01,215.18 C211.60,215.10 211.00,215.51 210.71,215.90 C210.42,216.28 210.35,217.22 210.28,217.49" fill="none" stroke="#d2204a" stroke-width="1.05" stroke-linecap="round" stroke-linejoin="round"/>
<path d="M267.40,241.40 L267.90,241.53 L268.37,241.63 L268.76,241.67 L269.07,241.64 L269.28,241.51 L269.37,241.29 L269.35,240.98 L269.25,240.59 L269.08,240.15 L268.88,239.68 L268.67,239.20 L268.50,238.76 L268.40,238.37 L268.38,238.06 L268.47,237.84 L268.68,237.71 L268.99,237.68 L269.38,237.72 L269.85,237.82 L270.35,237.95 L270.85,238.08 L271.32,238.18 L271.71,238.22 L272.02,238.19 L272.23,238.06 L272.32,237.84 L272.30,237.53 L272.20,237.14 L272.03,236.70 L271.82,236.22 L271.62,235.75 L271.45,235.31 L271.35,234.92 L271.33,234.61 L271.42,234.39 L271.63,234.26 L271.94,234.23 L272.33,234.27 L272.80,234.37 L273.30,234.50" fill="none" stroke="#48548f" stroke-width="1.05" stroke-linejoin="round" stroke-linecap="round"/>
<path d="M275.60,238.60 C275.77,238.22 276.25,237.06 276.61,236.29 C276.97,235.52 277.62,234.80 277.77,233.98 C277.91,233.16 277.50,232.34 277.48,231.38 C277.45,230.41 277.38,229.11 277.62,228.20 C277.86,227.28 278.37,226.34 278.92,225.89 C279.48,225.43 280.27,225.31 280.94,225.45 C281.62,225.60 282.58,226.15 282.97,226.75 C283.35,227.36 283.40,228.29 283.26,229.07 C283.11,229.84 282.49,230.85 282.10,231.38 C281.72,231.91 280.75,232.20 280.94,232.24 C281.14,232.29 282.44,231.67 283.26,231.67 C284.08,231.67 285.26,231.86 285.86,232.24 C286.46,232.63 286.87,233.35 286.87,233.98 C286.87,234.60 286.46,235.52 285.86,236.00 C285.26,236.48 283.98,236.72 283.26,236.87 C282.53,237.01 281.91,236.48 281.52,236.87 C281.14,237.25 281.23,238.46 280.94,239.18 C280.66,239.90 280.27,241.01 279.79,241.20 C279.31,241.39 278.34,240.82 278.06,240.34 C277.77,239.85 277.81,238.89 278.06,238.31 C278.30,237.73 279.02,237.40 279.50,236.87 C279.98,236.34 280.75,235.71 280.94,235.13 C281.14,234.56 280.99,233.79 280.66,233.40 C280.32,233.01 279.55,232.73 278.92,232.82 C278.30,232.92 277.43,233.54 276.90,233.98 C276.37,234.41 276.18,235.13 275.74,235.42 C275.31,235.71 274.68,235.90 274.30,235.71 C273.91,235.52 273.38,234.89 273.43,234.27 C273.48,233.64 274.30,232.68 274.59,231.96 C274.88,231.23 275.26,230.46 275.17,229.93 C275.07,229.40 274.42,228.85 274.01,228.78 C273.60,228.70 273.00,229.11 272.71,229.50 C272.42,229.88 272.35,230.82 272.28,231.09" fill="none" stroke="#d2204a" stroke-width="1.05" stroke-linecap="round" stroke-linejoin="round"/>
<path d="M197.30,269.60 L197.13,269.09 L196.94,268.63 L196.74,268.25 L196.52,267.98 L196.26,267.86 L195.98,267.87 L195.67,268.03 L195.34,268.30 L194.99,268.65 L194.62,269.05 L194.26,269.45 L193.91,269.80 L193.58,270.07 L193.27,270.23 L192.99,270.24 L192.73,270.12 L192.51,269.85 L192.31,269.47 L192.12,269.01 L191.95,268.50 L191.78,267.99 L191.59,267.53 L191.39,267.15 L191.17,266.88 L190.91,266.76 L190.63,266.77 L190.32,266.93 L189.99,267.20 L189.64,267.55 L189.28,267.95 L188.91,268.35 L188.56,268.70 L188.23,268.97 L187.92,269.13 L187.64,269.14 L187.38,269.02 L187.16,268.75 L186.96,268.37 L186.77,267.91 L186.60,267.40" fill="none" stroke="#48548f" stroke-width="1.05" stroke-linejoin="round" stroke-linecap="round"/>
<path d="M174.80,273.10 C174.97,272.72 175.45,271.56 175.81,270.79 C176.17,270.02 176.82,269.30 176.97,268.48 C177.11,267.66 176.70,266.84 176.68,265.88 C176.65,264.91 176.58,263.61 176.82,262.70 C177.06,261.78 177.57,260.84 178.12,260.39 C178.68,259.93 179.47,259.81 180.14,259.95 C180.82,260.10 181.78,260.65 182.17,261.25 C182.55,261.86 182.60,262.79 182.46,263.57 C182.31,264.34 181.69,265.35 181.30,265.88 C180.92,266.41 179.95,266.70 180.14,266.74 C180.34,266.79 181.64,266.17 182.46,266.17 C183.28,266.17 184.46,266.36 185.06,266.74 C185.66,267.13 186.07,267.85 186.07,268.48 C186.07,269.10 185.66,270.02 185.06,270.50 C184.46,270.98 183.18,271.22 182.46,271.37 C181.73,271.51 181.11,270.98 180.72,271.37 C180.34,271.75 180.43,272.96 180.14,273.68 C179.86,274.40 179.47,275.51 178.99,275.70 C178.51,275.89 177.54,275.32 177.26,274.84 C176.97,274.35 177.01,273.39 177.26,272.81 C177.50,272.23 178.22,271.90 178.70,271.37 C179.18,270.84 179.95,270.21 180.14,269.63 C180.34,269.06 180.19,268.29 179.86,267.90 C179.52,267.51 178.75,267.23 178.12,267.32 C177.50,267.42 176.63,268.04 176.10,268.48 C175.57,268.91 175.38,269.63 174.94,269.92 C174.51,270.21 173.88,270.40 173.50,270.21 C173.11,270.02 172.58,269.39 172.63,268.77 C172.68,268.14 173.50,267.18 173.79,266.46 C174.08,265.73 174.46,264.96 174.37,264.43 C174.27,263.90 173.62,263.35 173.21,263.28 C172.80,263.20 172.20,263.61 171.91,264.00 C171.62,264.38 171.55,265.32 171.48,265.59" fill="none" stroke="#d2204a" stroke-width="1.05" stroke-linecap="round" stroke-linejoin="round"/>
<path d="M276.80,291.60 L276.96,292.12 L277.13,292.60 L277.33,293.00 L277.55,293.28 L277.81,293.42 L278.11,293.43 L278.45,293.30 L278.81,293.05 L279.20,292.72 L279.60,292.35 L280.00,291.98 L280.39,291.65 L280.75,291.40 L281.09,291.27 L281.39,291.28 L281.65,291.42 L281.87,291.70 L282.07,292.10 L282.24,292.58 L282.40,293.10 L282.56,293.62 L282.73,294.10 L282.93,294.50 L283.15,294.78 L283.41,294.92 L283.71,294.93 L284.05,294.80 L284.41,294.55 L284.80,294.22 L285.20,293.85 L285.60,293.48 L285.99,293.15 L286.35,292.90 L286.69,292.77 L286.99,292.78 L287.25,292.92 L287.47,293.20 L287.67,293.60 L287.84,294.08 L288.00,294.60" fill="none" stroke="#48548f" stroke-width="1.05" stroke-linejoin="round" stroke-linecap="round"/>
<path d="M284.30,307.50 C284.47,307.12 284.95,305.96 285.31,305.19 C285.67,304.42 286.32,303.70 286.47,302.88 C286.61,302.06 286.20,301.24 286.18,300.28 C286.15,299.31 286.08,298.01 286.32,297.10 C286.56,296.18 287.07,295.24 287.62,294.79 C288.18,294.33 288.97,294.21 289.64,294.35 C290.32,294.50 291.28,295.05 291.67,295.65 C292.05,296.26 292.10,297.19 291.96,297.97 C291.81,298.74 291.19,299.75 290.80,300.28 C290.42,300.81 289.45,301.10 289.64,301.14 C289.84,301.19 291.14,300.57 291.96,300.57 C292.78,300.57 293.96,300.76 294.56,301.14 C295.16,301.53 295.57,302.25 295.57,302.88 C295.57,303.50 295.16,304.42 294.56,304.90 C293.96,305.38 292.68,305.62 291.96,305.77 C291.23,305.91 290.61,305.38 290.22,305.77 C289.84,306.15 289.93,307.36 289.64,308.08 C289.36,308.80 288.97,309.91 288.49,310.10 C288.01,310.29 287.04,309.72 286.76,309.24 C286.47,308.75 286.51,307.79 286.76,307.21 C287.00,306.63 287.72,306.30 288.20,305.77 C288.68,305.24 289.45,304.61 289.64,304.03 C289.84,303.46 289.69,302.69 289.36,302.30 C289.02,301.91 288.25,301.63 287.62,301.72 C287.00,301.82 286.13,302.44 285.60,302.88 C285.07,303.31 284.88,304.03 284.44,304.32 C284.01,304.61 283.38,304.80 283.00,304.61 C282.61,304.42 282.08,303.79 282.13,303.17 C282.18,302.54 283.00,301.58 283.29,300.86 C283.58,300.13 283.96,299.36 283.87,298.83 C283.77,298.30 283.12,297.75 282.71,297.68 C282.30,297.60 281.70,298.01 281.41,298.40 C281.12,298.78 281.05,299.72 280.98,299.99" fill="none" stroke="#d2204a" stroke-width="1.05" stroke-linecap="round" stroke-linejoin="round"/>
<path d="M211.20,302.30 L210.68,302.21 L210.19,302.14 L209.77,302.13 L209.44,302.19 L209.22,302.35 L209.11,302.59 L209.11,302.93 L209.20,303.34 L209.36,303.81 L209.55,304.30 L209.74,304.79 L209.90,305.26 L209.99,305.67 L209.99,306.01 L209.88,306.25 L209.66,306.41 L209.33,306.47 L208.91,306.46 L208.42,306.39 L207.90,306.30 L207.38,306.21 L206.89,306.14 L206.47,306.13 L206.14,306.19 L205.92,306.35 L205.81,306.59 L205.81,306.93 L205.90,307.34 L206.06,307.81 L206.25,308.30 L206.44,308.79 L206.60,309.26 L206.69,309.67 L206.69,310.01 L206.58,310.25 L206.36,310.41 L206.03,310.47 L205.61,310.46 L205.12,310.39 L204.60,310.30" fill="none" stroke="#48548f" stroke-width="1.05" stroke-linejoin="round" stroke-linecap="round"/>
<path d="M193.60,315.20 C193.77,314.82 194.25,313.66 194.61,312.89 C194.97,312.12 195.62,311.40 195.77,310.58 C195.91,309.76 195.50,308.94 195.48,307.98 C195.45,307.01 195.38,305.71 195.62,304.80 C195.86,303.88 196.37,302.94 196.92,302.49 C197.48,302.03 198.27,301.91 198.94,302.05 C199.62,302.20 200.58,302.75 200.97,303.35 C201.35,303.96 201.40,304.89 201.26,305.67 C201.11,306.44 200.49,307.45 200.10,307.98 C199.72,308.51 198.75,308.80 198.94,308.84 C199.14,308.89 200.44,308.27 201.26,308.27 C202.08,308.27 203.26,308.46 203.86,308.84 C204.46,309.23 204.87,309.95 204.87,310.58 C204.87,311.20 204.46,312.12 203.86,312.60 C203.26,313.08 201.98,313.32 201.26,313.47 C200.53,313.61 199.91,313.08 199.52,313.47 C199.14,313.85 199.23,315.06 198.94,315.78 C198.66,316.50 198.27,317.61 197.79,317.80 C197.31,317.99 196.34,317.42 196.06,316.94 C195.77,316.45 195.81,315.49 196.06,314.91 C196.30,314.33 197.02,314.00 197.50,313.47 C197.98,312.94 198.75,312.31 198.94,311.73 C199.14,311.16 198.99,310.39 198.66,310.00 C198.32,309.61 197.55,309.33 196.92,309.42 C196.30,309.52 195.43,310.14 194.90,310.58 C194.37,311.01 194.18,311.73 193.74,312.02 C193.31,312.31 192.68,312.50 192.30,312.31 C191.91,312.12 191.38,311.49 191.43,310.87 C191.48,310.24 192.30,309.28 192.59,308.56 C192.88,307.83 193.26,307.06 193.17,306.53 C193.07,306.00 192.42,305.45 192.01,305.38 C191.60,305.30 191.00,305.71 190.71,306.10 C190.42,306.48 190.35,307.42 190.28,307.69" fill="none" stroke="#d2204a" stroke-width="1.05" stroke-linecap="round" stroke-linejoin="round"/>
<path d="M261.40,308.30 L261.12,308.77 L260.87,309.21 L260.71,309.62 L260.65,309.97 L260.71,310.26 L260.91,310.49 L261.23,310.65 L261.65,310.76 L262.16,310.83 L262.70,310.88 L263.24,310.92 L263.75,310.99 L264.17,311.10 L264.49,311.26 L264.69,311.49 L264.75,311.78 L264.69,312.13 L264.53,312.54 L264.28,312.98 L264.00,313.45 L263.72,313.92 L263.47,314.36 L263.31,314.77 L263.25,315.12 L263.31,315.41 L263.51,315.64 L263.83,315.80 L264.25,315.91 L264.76,315.98 L265.30,316.03 L265.84,316.07 L266.35,316.14 L266.77,316.25 L267.09,316.41 L267.29,316.64 L267.35,316.93 L267.29,317.28 L267.13,317.69 L266.88,318.13 L266.60,318.60" fill="none" stroke="#48548f" stroke-width="1.05" stroke-linejoin="round" stroke-linecap="round"/>
<path d="M259.50,330.90 C259.67,330.52 260.15,329.36 260.51,328.59 C260.87,327.82 261.52,327.10 261.67,326.28 C261.81,325.46 261.40,324.64 261.38,323.68 C261.35,322.71 261.28,321.41 261.52,320.50 C261.76,319.58 262.27,318.64 262.82,318.19 C263.38,317.73 264.17,317.61 264.84,317.75 C265.52,317.90 266.48,318.45 266.87,319.05 C267.25,319.66 267.30,320.59 267.16,321.37 C267.01,322.14 266.39,323.15 266.00,323.68 C265.62,324.21 264.65,324.50 264.84,324.54 C265.04,324.59 266.34,323.97 267.16,323.97 C267.98,323.97 269.16,324.16 269.76,324.54 C270.36,324.93 270.77,325.65 270.77,326.28 C270.77,326.90 270.36,327.82 269.76,328.30 C269.16,328.78 267.88,329.02 267.16,329.17 C266.43,329.31 265.81,328.78 265.42,329.17 C265.04,329.55 265.13,330.76 264.84,331.48 C264.56,332.20 264.17,333.31 263.69,333.50 C263.21,333.69 262.24,333.12 261.96,332.64 C261.67,332.15 261.71,331.19 261.96,330.61 C262.20,330.03 262.92,329.70 263.40,329.17 C263.88,328.64 264.65,328.01 264.84,327.43 C265.04,326.86 264.89,326.09 264.56,325.70 C264.22,325.31 263.45,325.03 262.82,325.12 C262.20,325.22 261.33,325.84 260.80,326.28 C260.27,326.71 260.08,327.43 259.64,327.72 C259.21,328.01 258.58,328.20 258.20,328.01 C257.81,327.82 257.28,327.19 257.33,326.57 C257.38,325.94 258.20,324.98 258.49,324.26 C258.78,323.53 259.16,322.76 259.07,322.23 C258.97,321.70 258.32,321.15 257.91,321.08 C257.50,321.00 256.90,321.41 256.61,321.80 C256.32,322.18 256.25,323.12 256.18,323.39" fill="none" stroke="#d2204a" stroke-width="1.05" stroke-linecap="round" stroke-linejoin="round"/>
<path d="M499.8,262.8 C506,255 512,249 517,251 C522,253 525,262 529,261 C533,259 535,253 537,250" fill="none" stroke="#333" stroke-width="0.8"/>
<path d="M538.5,246.5 L533.8,251.2 L539,252.5 Z" fill="#222"/>
<text x="535.4" y="242.5" font-size="8" font-weight="normal" text-anchor="start" fill="#333" font-style="italic" textLength="14.8" lengthAdjust="spacingAndGlyphs">ASX</text>
<path d="M519.9,302.2 C519,309 521,313 526,313 C532,313 534,311 535.2,316" fill="none" stroke="#333" stroke-width="0.8"/>
<path d="M535.4,320.2 L532.2,315 L538,314.8 Z" fill="#222"/>
<text x="524.3" y="329.5" font-size="7.5" font-weight="normal" text-anchor="start" fill="#333" font-style="italic" textLength="36.5" lengthAdjust="spacingAndGlyphs">PEG2000-</text>
<text x="512.2" y="337.2" font-size="7.5" font-weight="normal" text-anchor="start" fill="#333" font-style="italic" textLength="60.8" lengthAdjust="spacingAndGlyphs">maleimide group</text>
<text x="216.4" y="349.2" font-size="8.8" font-weight="bold" text-anchor="start" fill="#1a1a1a" textLength="44.9" lengthAdjust="spacingAndGlyphs">Lf-ASX-LP</text>
<text x="459.7" y="349.9" font-size="8.8" font-weight="bold" text-anchor="start" fill="#1a1a1a" textLength="33.9" lengthAdjust="spacingAndGlyphs">ASX-LP</text>
<text x="4.4" y="376.8" font-size="15.5" font-weight="bold" text-anchor="start" fill="#000" textLength="19.9" lengthAdjust="spacingAndGlyphs">(B)</text>
<rect x="47.60" y="382.90" width="28.80" height="5.10" fill="#fff" stroke="#000" stroke-width="1.2"/>
<text x="80.2" y="387.9" font-size="9.0" font-weight="bold" text-anchor="start" fill="#000" textLength="100.4" lengthAdjust="spacingAndGlyphs">Encapsulation efficiency</text>
<line x1="47.20" y1="402.40" x2="76.70" y2="402.40" stroke="#1c74c2" stroke-width="1.4"/>
<rect x="60.35" y="400.35" width="4.5" height="4.5" fill="#000"/>
<text x="80.2" y="405.0" font-size="9.0" font-weight="bold" text-anchor="start" fill="#000" textLength="91.4" lengthAdjust="spacingAndGlyphs">Drug loading capacity</text>
<line x1="55.20" y1="424.10" x2="55.20" y2="553.50" stroke="#000" stroke-width="1.3"/>
<line x1="175.90" y1="424.09" x2="175.90" y2="553.50" stroke="#000" stroke-width="1.3"/>
<line x1="51.60" y1="552.90" x2="176.50" y2="552.90" stroke="#000" stroke-width="1.3"/>
<line x1="51.60" y1="552.90" x2="55.20" y2="552.90" stroke="#000" stroke-width="1.3"/>
<text x="44.6" y="556.6" font-size="10" font-weight="bold" text-anchor="end" fill="#000">0</text>
<line x1="51.60" y1="527.26" x2="55.20" y2="527.26" stroke="#000" stroke-width="1.3"/>
<text x="44.6" y="531.0" font-size="10" font-weight="bold" text-anchor="end" fill="#000">20</text>
<line x1="51.60" y1="501.62" x2="55.20" y2="501.62" stroke="#000" stroke-width="1.3"/>
<text x="44.6" y="505.4" font-size="10" font-weight="bold" text-anchor="end" fill="#000">40</text>
<line x1="51.60" y1="475.98" x2="55.20" y2="475.98" stroke="#000" stroke-width="1.3"/>
<text x="44.6" y="479.7" font-size="10" font-weight="bold" text-anchor="end" fill="#000">60</text>
<line x1="51.60" y1="450.34" x2="55.20" y2="450.34" stroke="#000" stroke-width="1.3"/>
<text x="44.6" y="454.1" font-size="10" font-weight="bold" text-anchor="end" fill="#000">80</text>
<line x1="51.60" y1="424.70" x2="55.20" y2="424.70" stroke="#000" stroke-width="1.3"/>
<text x="44.6" y="428.4" font-size="10" font-weight="bold" text-anchor="end" fill="#000">100</text>
<line x1="175.90" y1="552.90" x2="178.90" y2="552.90" stroke="#000" stroke-width="1.3"/>
<text x="186.8" y="556.6" font-size="10" font-weight="bold" text-anchor="start" fill="#000">0</text>
<line x1="175.90" y1="510.16" x2="178.90" y2="510.16" stroke="#000" stroke-width="1.3"/>
<text x="186.8" y="513.9" font-size="10" font-weight="bold" text-anchor="start" fill="#000">0.05</text>
<line x1="175.90" y1="467.43" x2="178.90" y2="467.43" stroke="#000" stroke-width="1.3"/>
<text x="186.8" y="471.2" font-size="10" font-weight="bold" text-anchor="start" fill="#000">0.1</text>
<line x1="175.90" y1="424.69" x2="178.90" y2="424.69" stroke="#000" stroke-width="1.3"/>
<text x="186.8" y="428.4" font-size="10" font-weight="bold" text-anchor="start" fill="#000">0.15</text>
<rect x="65.30" y="466.75" width="9.70" height="86.15" fill="#fff" stroke="#000" stroke-width="1.2"/>
<line x1="66.65" y1="465.72" x2="73.65" y2="465.72" stroke="#000" stroke-width="1.3"/>
<rect x="95.45" y="457.01" width="9.70" height="95.89" fill="#fff" stroke="#000" stroke-width="1.2"/>
<line x1="96.80" y1="455.98" x2="103.80" y2="455.98" stroke="#000" stroke-width="1.3"/>
<rect x="125.45" y="441.62" width="9.70" height="111.28" fill="#fff" stroke="#000" stroke-width="1.2"/>
<line x1="126.80" y1="440.85" x2="133.80" y2="440.85" stroke="#000" stroke-width="1.3"/>
<rect x="155.65" y="437.52" width="9.70" height="115.38" fill="#fff" stroke="#000" stroke-width="1.2"/>
<line x1="157.00" y1="436.62" x2="164.00" y2="436.62" stroke="#000" stroke-width="1.3"/>
<polyline points="70.2,473.4 100.3,466.2 130.3,459.7 160.5,435.6" fill="none" stroke="#1c74c2" stroke-width="1.6"/>
<rect x="67.85" y="471.11" width="4.6" height="4.6" fill="#000"/>
<rect x="98.00" y="463.93" width="4.6" height="4.6" fill="#000"/>
<rect x="128.00" y="457.44" width="4.6" height="4.6" fill="#000"/>
<rect x="158.20" y="433.34" width="4.6" height="4.6" fill="#000"/>
<text x="70.2" y="571.5" font-size="10" font-weight="bold" text-anchor="middle" fill="#000">2.09</text>
<text x="100.3" y="571.5" font-size="10" font-weight="bold" text-anchor="middle" fill="#000">2.21</text>
<text x="130.3" y="571.5" font-size="10" font-weight="bold" text-anchor="middle" fill="#000">2.45</text>
<text x="160.5" y="571.5" font-size="10" font-weight="bold" text-anchor="middle" fill="#000">2.94</text>
<text x="40.0" y="589.9" font-size="10" font-weight="bold" text-anchor="start" fill="#000" textLength="150.6" lengthAdjust="spacingAndGlyphs">Ratio of ASX to lipids (μg/mg)</text>
<text transform="translate(15.2,487.8) rotate(-90)" x="0" y="0" font-size="10.3" font-weight="bold" text-anchor="middle" fill="#000" textLength="136.3" lengthAdjust="spacingAndGlyphs">Encapsulation efficiency (%)</text>
<text transform="translate(221.0,486.4) rotate(-90)" x="0" y="0" font-size="10.3" font-weight="bold" text-anchor="middle" fill="#000" textLength="127.0" lengthAdjust="spacingAndGlyphs">Drug loading capacity (%)</text>
<text x="246.1" y="376.9" font-size="15.5" font-weight="bold" text-anchor="start" fill="#000" textLength="20.2" lengthAdjust="spacingAndGlyphs">(C)</text>
<rect x="301.80" y="382.40" width="28.20" height="5.30" fill="#fff" stroke="#000" stroke-width="1.15"/>
<text x="333.9" y="388.0" font-size="9.0" font-weight="bold" text-anchor="start" fill="#000" textLength="101.1" lengthAdjust="spacingAndGlyphs">Encapsulation efficiency</text>
<line x1="301.20" y1="400.90" x2="330.60" y2="400.90" stroke="#1c74c2" stroke-width="1.4"/>
<rect x="314.20" y="398.45" width="4.4" height="4.4" fill="#000"/>
<text x="333.9" y="403.7" font-size="9.0" font-weight="bold" text-anchor="start" fill="#000" textLength="92.5" lengthAdjust="spacingAndGlyphs">Drug loading capacity</text>
<line x1="298.40" y1="416.12" x2="298.40" y2="557.00" stroke="#000" stroke-width="1.3"/>
<line x1="434.00" y1="416.12" x2="434.00" y2="557.00" stroke="#000" stroke-width="1.3"/>
<line x1="295.20" y1="556.40" x2="434.60" y2="556.40" stroke="#000" stroke-width="1.3"/>
<line x1="295.10" y1="556.40" x2="298.40" y2="556.40" stroke="#000" stroke-width="1.3"/>
<text x="288.4" y="560.1" font-size="10" font-weight="bold" text-anchor="end" fill="#000">0</text>
<line x1="295.10" y1="533.12" x2="298.40" y2="533.12" stroke="#000" stroke-width="1.3"/>
<text x="288.4" y="536.9" font-size="10" font-weight="bold" text-anchor="end" fill="#000">20</text>
<line x1="295.10" y1="509.84" x2="298.40" y2="509.84" stroke="#000" stroke-width="1.3"/>
<text x="288.4" y="513.6" font-size="10" font-weight="bold" text-anchor="end" fill="#000">40</text>
<line x1="295.10" y1="486.56" x2="298.40" y2="486.56" stroke="#000" stroke-width="1.3"/>
<text x="288.4" y="490.3" font-size="10" font-weight="bold" text-anchor="end" fill="#000">60</text>
<line x1="295.10" y1="463.28" x2="298.40" y2="463.28" stroke="#000" stroke-width="1.3"/>
<text x="288.4" y="467.0" font-size="10" font-weight="bold" text-anchor="end" fill="#000">80</text>
<line x1="295.10" y1="440.00" x2="298.40" y2="440.00" stroke="#000" stroke-width="1.3"/>
<text x="288.4" y="443.8" font-size="10" font-weight="bold" text-anchor="end" fill="#000">100</text>
<line x1="295.10" y1="416.72" x2="298.40" y2="416.72" stroke="#000" stroke-width="1.3"/>
<text x="288.4" y="420.5" font-size="10" font-weight="bold" text-anchor="end" fill="#000">120</text>
<line x1="434.00" y1="556.40" x2="437.00" y2="556.40" stroke="#000" stroke-width="1.3"/>
<text x="444.6" y="560.1" font-size="10" font-weight="bold" text-anchor="start" fill="#000">0</text>
<line x1="434.00" y1="533.12" x2="437.00" y2="533.12" stroke="#000" stroke-width="1.3"/>
<text x="444.6" y="536.9" font-size="10" font-weight="bold" text-anchor="start" fill="#000">0.05</text>
<line x1="434.00" y1="509.84" x2="437.00" y2="509.84" stroke="#000" stroke-width="1.3"/>
<text x="444.6" y="513.6" font-size="10" font-weight="bold" text-anchor="start" fill="#000">0.1</text>
<line x1="434.00" y1="486.56" x2="437.00" y2="486.56" stroke="#000" stroke-width="1.3"/>
<text x="444.6" y="490.3" font-size="10" font-weight="bold" text-anchor="start" fill="#000">0.15</text>
<line x1="434.00" y1="463.28" x2="437.00" y2="463.28" stroke="#000" stroke-width="1.3"/>
<text x="444.6" y="467.0" font-size="10" font-weight="bold" text-anchor="start" fill="#000">0.2</text>
<line x1="434.00" y1="440.00" x2="437.00" y2="440.00" stroke="#000" stroke-width="1.3"/>
<text x="444.6" y="443.8" font-size="10" font-weight="bold" text-anchor="start" fill="#000">0.25</text>
<line x1="434.00" y1="416.72" x2="437.00" y2="416.72" stroke="#000" stroke-width="1.3"/>
<text x="444.6" y="420.5" font-size="10" font-weight="bold" text-anchor="start" fill="#000">0.3</text>
<rect x="307.90" y="442.44" width="8.40" height="113.96" fill="#fff" stroke="#000" stroke-width="1.2"/>
<line x1="312.10" y1="442.44" x2="312.10" y2="441.51" stroke="#000" stroke-width="1.1"/>
<line x1="309.35" y1="441.51" x2="314.85" y2="441.51" stroke="#000" stroke-width="1.1"/>
<rect x="335.00" y="443.14" width="8.40" height="113.26" fill="#fff" stroke="#000" stroke-width="1.2"/>
<rect x="361.90" y="445.82" width="8.40" height="110.58" fill="#fff" stroke="#000" stroke-width="1.2"/>
<line x1="366.10" y1="445.82" x2="366.10" y2="443.26" stroke="#000" stroke-width="1.1"/>
<line x1="363.35" y1="443.26" x2="368.85" y2="443.26" stroke="#000" stroke-width="1.1"/>
<rect x="388.90" y="446.87" width="8.40" height="109.53" fill="#fff" stroke="#000" stroke-width="1.2"/>
<line x1="393.10" y1="446.87" x2="393.10" y2="441.98" stroke="#000" stroke-width="1.1"/>
<line x1="390.35" y1="441.98" x2="395.85" y2="441.98" stroke="#000" stroke-width="1.1"/>
<rect x="415.80" y="451.87" width="8.40" height="104.53" fill="#fff" stroke="#000" stroke-width="1.2"/>
<polyline points="312.1,440.9 339.2,480.5 366.1,453.0 393.1,472.6 420.0,491.7" fill="none" stroke="#1c74c2" stroke-width="1.6"/>
<rect x="309.80" y="438.63" width="4.6" height="4.6" fill="#000"/>
<rect x="336.90" y="478.21" width="4.6" height="4.6" fill="#000"/>
<rect x="363.80" y="450.74" width="4.6" height="4.6" fill="#000"/>
<rect x="390.80" y="470.29" width="4.6" height="4.6" fill="#000"/>
<rect x="417.70" y="489.38" width="4.6" height="4.6" fill="#000"/>
<line x1="393.10" y1="472.59" x2="393.10" y2="468.39" stroke="#000" stroke-width="1.0"/>
<line x1="390.35" y1="468.39" x2="395.85" y2="468.39" stroke="#000" stroke-width="1.0"/>
<line x1="339.20" y1="480.51" x2="339.20" y2="477.21" stroke="#000" stroke-width="1.0"/>
<line x1="336.70" y1="477.21" x2="341.70" y2="477.21" stroke="#000" stroke-width="1.0"/>
<line x1="312.10" y1="440.93" x2="312.10" y2="438.93" stroke="#000" stroke-width="1.0"/>
<line x1="309.85" y1="438.93" x2="314.35" y2="438.93" stroke="#000" stroke-width="1.0"/>
<text x="312.1" y="575.0" font-size="10" font-weight="bold" text-anchor="middle" fill="#000">1:3</text>
<text x="339.2" y="575.0" font-size="10" font-weight="bold" text-anchor="middle" fill="#000">1:1</text>
<text x="366.1" y="575.0" font-size="10" font-weight="bold" text-anchor="middle" fill="#000">3:1</text>
<text x="393.1" y="575.0" font-size="10" font-weight="bold" text-anchor="middle" fill="#000">5:1</text>
<text x="420.0" y="575.0" font-size="10" font-weight="bold" text-anchor="middle" fill="#000">1:0</text>
<text x="303.6" y="591.6" font-size="10" font-weight="bold" text-anchor="start" fill="#000" textLength="130.9" lengthAdjust="spacingAndGlyphs">DPPC : DOPC (molar ratio)</text>
<text transform="translate(261.3,490.1) rotate(-90)" x="0" y="0" font-size="10.0" font-weight="bold" text-anchor="middle" fill="#000" textLength="135.9" lengthAdjust="spacingAndGlyphs">Encapsulation efficiency (%)</text>
<text transform="translate(482.3,486.2) rotate(-90)" x="0" y="0" font-size="10.0" font-weight="bold" text-anchor="middle" fill="#000" textLength="127.0" lengthAdjust="spacingAndGlyphs">Drug loading capacity (%)</text>
<text x="519.5" y="377.0" font-size="15.5" font-weight="bold" text-anchor="start" fill="#000" textLength="22.3" lengthAdjust="spacingAndGlyphs">(D)</text>
<line x1="588.50" y1="434.30" x2="588.50" y2="557.30" stroke="#000" stroke-width="1.3"/>
<line x1="585.50" y1="556.70" x2="704.00" y2="556.70" stroke="#000" stroke-width="1.3"/>
<line x1="585.40" y1="556.70" x2="588.50" y2="556.70" stroke="#000" stroke-width="1.3"/>
<text x="577.5" y="560.5" font-size="10" font-weight="bold" text-anchor="end" fill="#000">0.00</text>
<line x1="585.40" y1="536.40" x2="588.50" y2="536.40" stroke="#000" stroke-width="1.3"/>
<text x="577.5" y="540.2" font-size="10" font-weight="bold" text-anchor="end" fill="#000">0.20</text>
<line x1="585.40" y1="516.10" x2="588.50" y2="516.10" stroke="#000" stroke-width="1.3"/>
<text x="577.5" y="519.9" font-size="10" font-weight="bold" text-anchor="end" fill="#000">0.40</text>
<line x1="585.40" y1="495.80" x2="588.50" y2="495.80" stroke="#000" stroke-width="1.3"/>
<text x="577.5" y="499.6" font-size="10" font-weight="bold" text-anchor="end" fill="#000">0.60</text>
<line x1="585.40" y1="475.50" x2="588.50" y2="475.50" stroke="#000" stroke-width="1.3"/>
<text x="577.5" y="479.3" font-size="10" font-weight="bold" text-anchor="end" fill="#000">0.80</text>
<line x1="585.40" y1="455.20" x2="588.50" y2="455.20" stroke="#000" stroke-width="1.3"/>
<text x="577.5" y="459.0" font-size="10" font-weight="bold" text-anchor="end" fill="#000">1.00</text>
<line x1="585.40" y1="434.90" x2="588.50" y2="434.90" stroke="#000" stroke-width="1.3"/>
<text x="577.5" y="438.7" font-size="10" font-weight="bold" text-anchor="end" fill="#000">1.20</text>
<rect x="597.55" y="521.28" width="11.30" height="35.42" fill="#fff" stroke="#000" stroke-width="1.2"/>
<rect x="626.15" y="487.88" width="11.30" height="68.82" fill="#fff" stroke="#000" stroke-width="1.2"/>
<rect x="655.25" y="464.23" width="11.30" height="92.47" fill="#fff" stroke="#000" stroke-width="1.2"/>
<rect x="683.95" y="445.35" width="11.30" height="111.35" fill="#fff" stroke="#000" stroke-width="1.2"/>
<line x1="628.80" y1="486.88" x2="634.80" y2="486.88" stroke="#000" stroke-width="1.0"/>
<line x1="686.60" y1="444.55" x2="692.60" y2="444.55" stroke="#000" stroke-width="1.0"/>
<text x="603.2" y="575.4" font-size="10" font-weight="bold" text-anchor="middle" fill="#000">0.38</text>
<text x="631.8" y="575.4" font-size="10" font-weight="bold" text-anchor="middle" fill="#000">0.75</text>
<text x="660.9" y="575.4" font-size="10" font-weight="bold" text-anchor="middle" fill="#000">1.10</text>
<text x="689.6" y="575.4" font-size="10" font-weight="bold" text-anchor="middle" fill="#000">1.50</text>
<text x="559.7" y="588.8" font-size="10" font-weight="bold" text-anchor="start" fill="#000" textLength="170.6" lengthAdjust="spacingAndGlyphs">Initial concentration of Lf (mg/mL)</text>
<text transform="translate(529.8,497.0) rotate(-90)" x="0" y="0" font-size="10.3" font-weight="bold" text-anchor="middle" fill="#000" textLength="82.0" lengthAdjust="spacingAndGlyphs">Concentration of</text>
<text transform="translate(549.1,496.5) rotate(-90)" x="0" y="0" font-size="10.3" font-weight="bold" text-anchor="middle" fill="#000" textLength="113.0" lengthAdjust="spacingAndGlyphs">conjugated Lf (mg/mL)</text>
<text x="4.9" y="629.8" font-size="15.5" font-weight="bold" text-anchor="start" fill="#000" textLength="19.7" lengthAdjust="spacingAndGlyphs">(E)</text>
<rect x="67.20" y="640.00" width="28.00" height="4.90" fill="#fff" stroke="#000" stroke-width="1.15"/>
<text x="99.0" y="645.5" font-size="9.0" font-weight="bold" text-anchor="start" fill="#000" textLength="16.0" lengthAdjust="spacingAndGlyphs">Size</text>
<line x1="128.90" y1="642.70" x2="158.20" y2="642.70" stroke="#4263b5" stroke-width="1.2"/>
<rect x="141.50" y="640.40" width="4.6" height="4.6" fill="#000"/>
<text x="161.0" y="645.5" font-size="9.0" font-weight="bold" text-anchor="start" fill="#000" textLength="13.9" lengthAdjust="spacingAndGlyphs">PDI</text>
<line x1="53.00" y1="656.90" x2="53.00" y2="796.30" stroke="#000" stroke-width="1.3"/>
<line x1="188.00" y1="656.90" x2="188.00" y2="796.30" stroke="#000" stroke-width="1.3"/>
<line x1="49.50" y1="795.70" x2="188.60" y2="795.70" stroke="#000" stroke-width="1.3"/>
<line x1="49.50" y1="795.70" x2="53.00" y2="795.70" stroke="#000" stroke-width="1.3"/>
<text x="42.2" y="799.5" font-size="10" font-weight="bold" text-anchor="end" fill="#000">0</text>
<line x1="49.50" y1="768.06" x2="53.00" y2="768.06" stroke="#000" stroke-width="1.3"/>
<text x="42.2" y="771.8" font-size="10" font-weight="bold" text-anchor="end" fill="#000">25</text>
<line x1="49.50" y1="740.42" x2="53.00" y2="740.42" stroke="#000" stroke-width="1.3"/>
<text x="42.2" y="744.2" font-size="10" font-weight="bold" text-anchor="end" fill="#000">50</text>
<line x1="49.50" y1="712.78" x2="53.00" y2="712.78" stroke="#000" stroke-width="1.3"/>
<text x="42.2" y="716.5" font-size="10" font-weight="bold" text-anchor="end" fill="#000">75</text>
<line x1="49.50" y1="685.14" x2="53.00" y2="685.14" stroke="#000" stroke-width="1.3"/>
<text x="42.2" y="688.9" font-size="10" font-weight="bold" text-anchor="end" fill="#000">100</text>
<line x1="49.50" y1="657.50" x2="53.00" y2="657.50" stroke="#000" stroke-width="1.3"/>
<text x="42.2" y="661.2" font-size="10" font-weight="bold" text-anchor="end" fill="#000">125</text>
<line x1="188.00" y1="795.70" x2="191.00" y2="795.70" stroke="#000" stroke-width="1.3"/>
<text x="198.4" y="799.5" font-size="10" font-weight="bold" text-anchor="start" fill="#000">0.00</text>
<line x1="188.00" y1="761.15" x2="191.00" y2="761.15" stroke="#000" stroke-width="1.3"/>
<text x="198.4" y="764.9" font-size="10" font-weight="bold" text-anchor="start" fill="#000">0.05</text>
<line x1="188.00" y1="726.60" x2="191.00" y2="726.60" stroke="#000" stroke-width="1.3"/>
<text x="198.4" y="730.4" font-size="10" font-weight="bold" text-anchor="start" fill="#000">0.10</text>
<line x1="188.00" y1="692.05" x2="191.00" y2="692.05" stroke="#000" stroke-width="1.3"/>
<text x="198.4" y="695.8" font-size="10" font-weight="bold" text-anchor="start" fill="#000">0.15</text>
<line x1="188.00" y1="657.50" x2="191.00" y2="657.50" stroke="#000" stroke-width="1.3"/>
<text x="198.4" y="661.2" font-size="10" font-weight="bold" text-anchor="start" fill="#000">0.20</text>
<rect x="64.60" y="692.33" width="10.60" height="103.37" fill="#fff" stroke="#000" stroke-width="1.2"/>
<rect x="98.30" y="679.39" width="10.60" height="116.31" fill="#fff" stroke="#000" stroke-width="1.2"/>
<rect x="132.00" y="696.97" width="10.60" height="98.73" fill="#fff" stroke="#000" stroke-width="1.2"/>
<rect x="165.80" y="674.42" width="10.60" height="121.28" fill="#fff" stroke="#000" stroke-width="1.2"/>
<line x1="133.80" y1="695.47" x2="140.80" y2="695.47" stroke="#000" stroke-width="1.1"/>
<line x1="99.40" y1="677.69" x2="107.80" y2="677.69" stroke="#000" stroke-width="1.2"/>
<polyline points="69.9,689.3 103.6,683.1 137.3,685.8 171.1,671.3" fill="none" stroke="#4263b5" stroke-width="1.3"/>
<line x1="69.90" y1="689.29" x2="69.90" y2="686.11" stroke="#000" stroke-width="1.1"/>
<line x1="66.90" y1="686.11" x2="72.90" y2="686.11" stroke="#000" stroke-width="1.1"/>
<rect x="67.40" y="686.79" width="5.0" height="5.0" fill="#000"/>
<line x1="103.60" y1="683.07" x2="103.60" y2="677.26" stroke="#000" stroke-width="1.1"/>
<line x1="100.60" y1="677.26" x2="106.60" y2="677.26" stroke="#000" stroke-width="1.1"/>
<rect x="101.10" y="680.57" width="5.0" height="5.0" fill="#000"/>
<line x1="137.30" y1="685.83" x2="137.30" y2="679.75" stroke="#000" stroke-width="1.1"/>
<line x1="134.30" y1="679.75" x2="140.30" y2="679.75" stroke="#000" stroke-width="1.1"/>
<rect x="134.80" y="683.33" width="5.0" height="5.0" fill="#000"/>
<line x1="171.10" y1="671.32" x2="171.10" y2="669.32" stroke="#000" stroke-width="1.1"/>
<line x1="168.10" y1="669.32" x2="174.10" y2="669.32" stroke="#000" stroke-width="1.1"/>
<rect x="168.60" y="668.82" width="5.0" height="5.0" fill="#000"/>
<text transform="translate(73.2,810.7) rotate(-45)" font-size="10" font-weight="bold" text-anchor="end" textLength="48.2" lengthAdjust="spacingAndGlyphs">Blank-LPs</text>
<text transform="translate(106.9,810.7) rotate(-45)" font-size="10" font-weight="bold" text-anchor="end" textLength="59.9" lengthAdjust="spacingAndGlyphs">Lf-blank-LPs</text>
<text transform="translate(140.6,810.7) rotate(-45)" font-size="10" font-weight="bold" text-anchor="end" textLength="41.7" lengthAdjust="spacingAndGlyphs">ASX-LPs</text>
<text transform="translate(174.4,810.7) rotate(-45)" font-size="10" font-weight="bold" text-anchor="end" textLength="54.3" lengthAdjust="spacingAndGlyphs">Lf-ASX-LPs</text>
<text transform="translate(17.0,726.2) rotate(-90)" x="0" y="0" font-size="10.3" font-weight="bold" text-anchor="middle" fill="#000" textLength="129.0" lengthAdjust="spacingAndGlyphs">Average particle size (nm)</text>
<text transform="translate(231.0,726.5) rotate(-90)" x="0" y="0" font-size="10.0" font-weight="bold" text-anchor="middle" fill="#000" textLength="15.7" lengthAdjust="spacingAndGlyphs">PDI</text>
<text x="249.9" y="629.7" font-size="15.5" font-weight="bold" text-anchor="start" fill="#000" textLength="18.2" lengthAdjust="spacingAndGlyphs">(F)</text>
<line x1="306.70" y1="692.80" x2="306.70" y2="830.32" stroke="#000" stroke-width="1.3"/>
<line x1="303.20" y1="693.40" x2="447.00" y2="693.40" stroke="#000" stroke-width="1.3"/>
<line x1="303.20" y1="710.44" x2="306.70" y2="710.44" stroke="#000" stroke-width="1.3"/>
<text x="295.8" y="714.2" font-size="10" font-weight="bold" text-anchor="end" fill="#000">-2</text>
<line x1="303.20" y1="727.48" x2="306.70" y2="727.48" stroke="#000" stroke-width="1.3"/>
<text x="295.8" y="731.2" font-size="10" font-weight="bold" text-anchor="end" fill="#000">-4</text>
<line x1="303.20" y1="744.52" x2="306.70" y2="744.52" stroke="#000" stroke-width="1.3"/>
<text x="295.8" y="748.3" font-size="10" font-weight="bold" text-anchor="end" fill="#000">-6</text>
<line x1="303.20" y1="761.56" x2="306.70" y2="761.56" stroke="#000" stroke-width="1.3"/>
<text x="295.8" y="765.3" font-size="10" font-weight="bold" text-anchor="end" fill="#000">-8</text>
<line x1="303.20" y1="778.60" x2="306.70" y2="778.60" stroke="#000" stroke-width="1.3"/>
<text x="295.8" y="782.3" font-size="10" font-weight="bold" text-anchor="end" fill="#000">-10</text>
<line x1="303.20" y1="795.64" x2="306.70" y2="795.64" stroke="#000" stroke-width="1.3"/>
<text x="295.8" y="799.4" font-size="10" font-weight="bold" text-anchor="end" fill="#000">-12</text>
<line x1="303.20" y1="812.68" x2="306.70" y2="812.68" stroke="#000" stroke-width="1.3"/>
<text x="295.8" y="816.4" font-size="10" font-weight="bold" text-anchor="end" fill="#000">-14</text>
<line x1="303.20" y1="829.72" x2="306.70" y2="829.72" stroke="#000" stroke-width="1.3"/>
<text x="295.8" y="833.5" font-size="10" font-weight="bold" text-anchor="end" fill="#000">-16</text>
<text x="295.8" y="697.1" font-size="10" font-weight="bold" text-anchor="end" fill="#000">0</text>
<rect x="318.55" y="693.40" width="11.10" height="74.98" fill="#fff" stroke="#000" stroke-width="1.2"/>
<line x1="324.10" y1="768.38" x2="324.10" y2="780.30" stroke="#000" stroke-width="1.1"/>
<line x1="321.10" y1="780.30" x2="327.10" y2="780.30" stroke="#000" stroke-width="1.1"/>
<rect x="353.45" y="693.40" width="11.10" height="79.24" fill="#fff" stroke="#000" stroke-width="1.2"/>
<line x1="359.00" y1="772.64" x2="359.00" y2="783.71" stroke="#000" stroke-width="1.1"/>
<line x1="356.00" y1="783.71" x2="362.00" y2="783.71" stroke="#000" stroke-width="1.1"/>
<rect x="388.55" y="693.40" width="11.10" height="92.87" fill="#fff" stroke="#000" stroke-width="1.2"/>
<line x1="394.10" y1="786.27" x2="394.10" y2="809.27" stroke="#000" stroke-width="1.1"/>
<line x1="391.10" y1="809.27" x2="397.10" y2="809.27" stroke="#000" stroke-width="1.1"/>
<rect x="423.45" y="693.40" width="11.10" height="80.51" fill="#fff" stroke="#000" stroke-width="1.2"/>
<line x1="429.00" y1="773.91" x2="429.00" y2="783.71" stroke="#000" stroke-width="1.1"/>
<line x1="426.00" y1="783.71" x2="432.00" y2="783.71" stroke="#000" stroke-width="1.1"/>
<text transform="translate(326.7,684.3) rotate(-45)" font-size="10" font-weight="bold" text-anchor="start" textLength="48.2" lengthAdjust="spacingAndGlyphs">Blank-LPs</text>
<text transform="translate(361.6,684.3) rotate(-45)" font-size="10" font-weight="bold" text-anchor="start" textLength="59.9" lengthAdjust="spacingAndGlyphs">Lf-blank-LPs</text>
<text transform="translate(396.7,684.3) rotate(-45)" font-size="10" font-weight="bold" text-anchor="start" textLength="41.7" lengthAdjust="spacingAndGlyphs">ASX-LPs</text>
<text transform="translate(431.6,684.3) rotate(-45)" font-size="10" font-weight="bold" text-anchor="start" textLength="54.3" lengthAdjust="spacingAndGlyphs">Lf-ASX-LPs</text>
<text transform="translate(275.0,761.9) rotate(-90)" x="0" y="0" font-size="10.0" font-weight="bold" text-anchor="middle" fill="#000" textLength="96.0" lengthAdjust="spacingAndGlyphs">Zeta potential (mV)</text>
<text x="518.2" y="629.5" font-size="15.5" font-weight="bold" text-anchor="start" fill="#000" textLength="21.5" lengthAdjust="spacingAndGlyphs">(G)</text>
<rect x="578.5" y="614.5" width="110.7" height="110.6" fill="#6b6b6b"/>
<rect x="578.5" y="614.5" width="110.7" height="110.6" filter="url(#afmnoise)" opacity="0.5"/>
<rect x="578.5" y="614.5" width="110.7" height="110.6" fill="#fff" filter="url(#afmfine)" opacity="0.18"/>
<circle cx="613.6" cy="629.9" r="6.9" fill="url(#blob)" opacity="1.0"/>
<circle cx="671.4" cy="640.2" r="6.9" fill="url(#blob)" opacity="1.0"/>
<circle cx="595.8" cy="676.7" r="7.8" fill="url(#blob)" opacity="1.0"/>
<circle cx="640.1" cy="696.8" r="7.4" fill="url(#blob)" opacity="1.0"/>
<circle cx="659.7" cy="688.9" r="6.5" fill="url(#blob)" opacity="1.0"/>
<circle cx="661.0" cy="693.0" r="6.0" fill="url(#blob)" opacity="1.0"/>
<circle cx="662.1" cy="697.0" r="6.5" fill="url(#blob)" opacity="1.0"/>
<circle cx="628.1" cy="708.3" r="5.9" fill="url(#blob)" opacity="1.0"/>
<circle cx="684.2" cy="672.4" r="5.9" fill="url(#blob)" opacity="0.45"/>
<circle cx="646.3" cy="716.0" r="6.5" fill="url(#blob)" opacity="0.35"/>
<circle cx="669.8" cy="717.9" r="5.9" fill="url(#blob)" opacity="0.2"/>
<circle cx="666" cy="681" r="5.2" fill="url(#blob)" opacity="0.25"/>
<circle cx="600" cy="636" r="6.5" fill="url(#blob)" opacity="0.15"/>
<line x1="578.8" y1="682.9" x2="689.2" y2="632.8" stroke="#d8262c" stroke-width="1.1"/>
<rect x="577.6" y="681.6" width="2.4" height="2.6" fill="#2233dd"/>
<line x1="583.30" y1="719.00" x2="614.50" y2="719.00" stroke="#fff" stroke-width="1.3"/>
<text x="587.3" y="716.2" font-size="6.6" font-weight="bold" text-anchor="start" fill="#fff" textLength="23.2" lengthAdjust="spacingAndGlyphs">200 nm</text>
<line x1="566.60" y1="729.90" x2="566.60" y2="785.50" stroke="#444" stroke-width="1.0"/>
<line x1="566.60" y1="785.50" x2="706.10" y2="785.50" stroke="#444" stroke-width="1.0"/>
<line x1="564.10" y1="729.80" x2="566.60" y2="729.80" stroke="#000" stroke-width="0.8"/>
<text x="561.8" y="732.0" font-size="6.2" font-weight="bold" text-anchor="end" fill="#222">15 nm</text>
<line x1="564.10" y1="745.60" x2="566.60" y2="745.60" stroke="#000" stroke-width="0.8"/>
<text x="561.8" y="747.8" font-size="6.2" font-weight="bold" text-anchor="end" fill="#222">10</text>
<line x1="564.10" y1="761.40" x2="566.60" y2="761.40" stroke="#000" stroke-width="0.8"/>
<text x="561.8" y="763.6" font-size="6.2" font-weight="bold" text-anchor="end" fill="#222">5</text>
<line x1="564.10" y1="777.20" x2="566.60" y2="777.20" stroke="#000" stroke-width="0.8"/>
<text x="561.8" y="779.4" font-size="6.2" font-weight="bold" text-anchor="end" fill="#222">0</text>
<line x1="602.72" y1="785.50" x2="602.72" y2="788.00" stroke="#000" stroke-width="0.8"/>
<line x1="638.84" y1="785.50" x2="638.84" y2="788.00" stroke="#000" stroke-width="0.8"/>
<line x1="674.96" y1="785.50" x2="674.96" y2="788.00" stroke="#000" stroke-width="0.8"/>
<text x="602.6" y="793.6" font-size="6.2" font-weight="bold" text-anchor="middle" fill="#222">200</text>
<text x="638.5" y="793.6" font-size="6.2" font-weight="bold" text-anchor="middle" fill="#222">400</text>
<text x="665.0" y="793.6" font-size="6.2" font-weight="bold" text-anchor="start" fill="#222" textLength="20.6" lengthAdjust="spacingAndGlyphs">600 nm</text>
<polyline points="566.9,781.1 573.1,779.2 578.0,777.2 580.5,769.3 583.0,749.6 586.1,736.1 589.1,738.5 591.6,747.2 594.5,766.9 597.0,777.2 600.2,779.2 603.0,780.5 606.3,779.7 608.0,777.5 610.0,776.7 613.0,777.5 616.2,776.4 619.9,776.2 623.0,778.0 627.3,780.4 630.0,778.6 633.4,777.2 638.3,776.7 642.0,777.5 646.0,776.9 649.4,777.2 652.0,775.5 655.6,772.3 660.0,771.6 663.0,771.8 666.7,777.9 671.6,779.7 674.0,778.6 676.5,777.9 679.0,761.9 681.4,743.5 684.6,740.3 687.6,742.2 689.6,757.0 692.0,775.5 694.5,777.9 697.0,777.2 699.9,775.5 703.0,773.8 706.1,772.3" fill="none" stroke="#ee2226" stroke-width="1.6" stroke-linejoin="round"/>
<rect x="565.9" y="779.9" width="2.2" height="2.4" fill="#2233dd"/>
<polygon points="586.7,809.9 600.0,809.0 615.0,811.0 630.0,809.5 645.0,810.5 660.0,809.2 679.8,808.8 686.3,830.6 693.0,854.7 699.5,881.0 700.8,892.5 680.0,891.5 640.0,892.6 600.0,891.2 563.8,891.5 571.4,865.7 579.0,843.8 583.5,819.7" fill="#626262"/>
<polygon points="586.7,809.9 600.0,809.0 615.0,811.0 630.0,809.5 645.0,810.5 660.0,809.2 679.8,808.8 686.3,830.6 693.0,854.7 699.5,881.0 700.8,892.5 680.0,891.5 640.0,892.6 600.0,891.2 563.8,891.5 571.4,865.7 579.0,843.8 583.5,819.7" fill="#000" filter="url(#surfnoise)" opacity="0.45"/>
<path d="M609.2,821.0 C609.7,810.1 613.0,803.5 615.2,801.1 C617.4,803.5 622.9,810.1 623.4,821.0 Z" fill="url(#spike)" mask="url(#spkmask)"/>
<path d="M663.0,826.0 C663.5,812.3 671.0,804.1 673.2,801.1 C675.4,804.1 676.5,812.3 677.0,826.0 Z" fill="url(#spike)" mask="url(#spkmask)"/>
<path d="M581.5,856.0 C582.0,836.6 583.4,825.0 585.6,820.8 C587.8,825.0 602.1,836.6 602.6,856.0 Z" fill="url(#spike)" mask="url(#spkmask)"/>
<path d="M632.2,870.0 C632.7,851.4 642.5,840.2 644.7,836.1 C646.9,840.2 651.5,851.4 652.0,870.0 Z" fill="url(#spike)" mask="url(#spkmask)"/>
<path d="M655.2,870.0 C655.7,845.4 666.6,830.6 668.8,825.2 C671.0,830.6 674.5,845.4 675.0,870.0 Z" fill="url(#spike)" mask="url(#spkmask)"/>
<path d="M620.2,883.0 C620.7,868.7 623.9,860.1 626.1,857.0 C628.3,860.1 634.9,868.7 635.4,883.0 Z" fill="url(#spike)" mask="url(#spkmask)"/>
<path d="M640.0,889.0 C640.5,880.4 646.9,875.2 649.1,873.3 C651.3,875.2 657.7,880.4 658.2,889.0 Z" fill="url(#spike)" mask="url(#spkmask)"/>
<path d="M681.0,849.0 C681.5,840.1 687.4,834.7 689.6,832.8 C691.8,834.7 691.7,840.1 692.2,849.0 Z" fill="url(#spike)" mask="url(#spkmask)"/>
</svg>
</body></html>
